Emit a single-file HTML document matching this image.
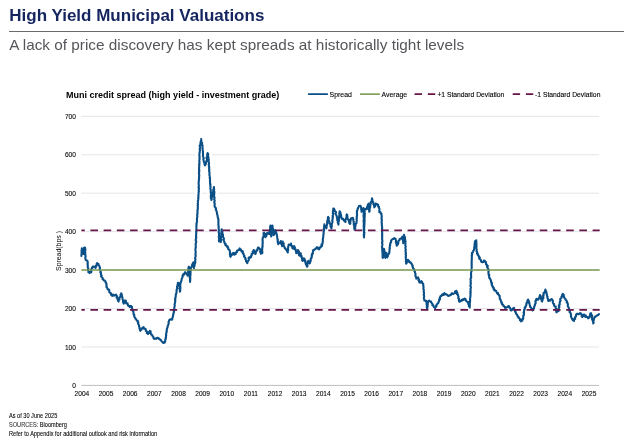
<!DOCTYPE html>
<html lang="en">
<head>
<meta charset="utf-8">
<title>High Yield Municipal Valuations</title>
<style>
html,body{margin:0;padding:0;background:#fff;}
body{width:624px;height:438px;position:relative;overflow:hidden;font-family:"Liberation Sans",Arial,Helvetica,sans-serif;color:#000;}
.abs{position:absolute;white-space:nowrap;line-height:1;}
h1{position:absolute;margin:0;left:9.3px;top:5.75px;font-size:17px;line-height:20px;font-weight:bold;color:#15255f;white-space:nowrap;}
.rule{position:absolute;left:9.2px;top:30.7px;width:615px;height:1.1px;background:#6b6b6b;}
h2{position:absolute;margin:0;left:9.15px;top:35.9px;font-size:15.34px;line-height:18px;font-weight:normal;color:#55565a;white-space:nowrap;transform:scaleY(1.012);transform-origin:0 78%;}
.ctitle{left:65.9px;top:90.1px;font-size:9.7px;font-weight:bold;color:#000;transform:scaleX(0.93);transform-origin:0 50%;}
.lg{font-size:6.9px;top:91.9px;color:#000;-webkit-text-stroke:0.1px #000;}
.yl{position:absolute;left:40px;width:35.9px;text-align:right;font-size:6.6px;line-height:9px;height:9px;color:#000;-webkit-text-stroke:0.08px #000;white-space:nowrap;}
.xl{position:absolute;top:389.2px;width:30px;text-align:center;font-size:6.6px;line-height:9px;height:9px;color:#000;-webkit-text-stroke:0.08px #000;white-space:nowrap;}
.ytitle{left:58.8px;top:251px;font-size:6.4px;color:#000;transform:translate(-50%,-50%) rotate(-90deg) scaleX(1.08);transform-origin:50% 50%;}
.foot{left:9.3px;font-size:6.3px;color:#000;-webkit-text-stroke:0.08px #000;transform:scaleX(0.889);transform-origin:0 50%;}
svg{position:absolute;left:0;top:0;}
</style>
</head>
<body>
<h1>High Yield Municipal Valuations</h1>
<div class="rule"></div>
<h2>A lack of price discovery has kept spreads at historically tight levels</h2>

<div class="abs ctitle">Muni credit spread (high yield - investment grade)</div>
<div class="abs lg" style="left:329.6px">Spread</div>
<div class="abs lg" style="left:381.6px">Average</div>
<div class="abs lg" style="left:437.4px;font-size:6.75px">+1 Standard Deviation</div>
<div class="abs lg" style="left:535.1px;font-size:6.75px">-1 Standard Deviation</div>

<div class="yl" style="top:381.05px">0</div><div class="yl" style="top:342.61px">100</div><div class="yl" style="top:304.16px">200</div><div class="yl" style="top:265.72px">300</div><div class="yl" style="top:227.28px">400</div><div class="yl" style="top:188.84px">500</div><div class="yl" style="top:150.39px">600</div><div class="yl" style="top:111.95px">700</div>
<div class="xl" style="left:66.90px">2004</div><div class="xl" style="left:91.05px">2005</div><div class="xl" style="left:115.19px">2006</div><div class="xl" style="left:139.34px">2007</div><div class="xl" style="left:163.48px">2008</div><div class="xl" style="left:187.63px">2009</div><div class="xl" style="left:211.78px">2010</div><div class="xl" style="left:235.92px">2011</div><div class="xl" style="left:260.07px">2012</div><div class="xl" style="left:284.21px">2013</div><div class="xl" style="left:308.36px">2014</div><div class="xl" style="left:332.51px">2015</div><div class="xl" style="left:356.65px">2016</div><div class="xl" style="left:380.80px">2017</div><div class="xl" style="left:404.94px">2018</div><div class="xl" style="left:429.09px">2019</div><div class="xl" style="left:453.24px">2020</div><div class="xl" style="left:477.38px">2021</div><div class="xl" style="left:501.53px">2022</div><div class="xl" style="left:525.67px">2023</div><div class="xl" style="left:549.82px">2024</div><div class="xl" style="left:573.97px">2025</div>
<div class="abs ytitle">Spread(bps )</div>

<svg width="624" height="438" viewBox="0 0 624 438" aria-label="Muni credit spread chart">
<g shape-rendering="auto">
<line x1="81.4" y1="346.96" x2="599.1" y2="346.96" stroke="#e5e4e8" stroke-width="1"/><line x1="81.4" y1="308.51" x2="599.1" y2="308.51" stroke="#e5e4e8" stroke-width="1"/><line x1="81.4" y1="270.07" x2="599.1" y2="270.07" stroke="#e5e4e8" stroke-width="1"/><line x1="81.4" y1="231.63" x2="599.1" y2="231.63" stroke="#e5e4e8" stroke-width="1"/><line x1="81.4" y1="193.19" x2="599.1" y2="193.19" stroke="#e5e4e8" stroke-width="1"/><line x1="81.4" y1="154.74" x2="599.1" y2="154.74" stroke="#e5e4e8" stroke-width="1"/><line x1="81.4" y1="116.30" x2="599.1" y2="116.30" stroke="#e5e4e8" stroke-width="1"/>
<line x1="81.4" y1="385.40" x2="599.1" y2="385.40" stroke="#bebec1" stroke-width="1"/>
</g>
<line x1="308.8" y1="94.15" x2="327.2" y2="94.15" stroke="#0b4f87" stroke-width="1.8" stroke-linecap="round"/>
<line x1="360" y1="94.15" x2="379.8" y2="94.15" stroke="#7b9950" stroke-width="1.6"/>
<line x1="414.6" y1="94.15" x2="435.2" y2="94.15" stroke="#66164a" stroke-width="1.7" stroke-dasharray="7.4 5.8"/>
<line x1="512.7" y1="94.15" x2="533.3" y2="94.15" stroke="#66164a" stroke-width="1.7" stroke-dasharray="7.4 5.8"/>
<path d="M81.4,255.9 L81.4,255.1 L81.5,254.4 L81.8,253.6 L81.5,252.8 L81.6,252.1 L81.7,251.3 L81.5,250.5 L81.7,249.7 L81.8,249.0 L81.8,248.2 L82.1,249.0 L83.0,249.0 L83.4,249.7 L83.3,250.4 L83.5,251.1 L83.1,251.9 L83.2,252.6 L83.8,253.3 L83.5,254.0 L83.9,253.3 L84.0,252.6 L83.8,251.8 L83.9,251.1 L83.6,250.4 L83.6,249.6 L84.1,248.9 L83.8,248.2 L84.2,247.5 L85.0,247.5 L85.2,248.3 L85.2,249.0 L85.4,249.8 L85.2,250.6 L85.2,251.3 L85.1,252.1 L85.3,252.9 L85.2,253.6 L85.4,254.4 L85.3,255.2 L85.5,255.9 L85.6,256.7 L85.3,257.5 L85.3,258.2 L85.6,259.0 L85.6,259.8 L86.1,260.2 L86.9,260.4 L87.4,260.9 L87.5,261.6 L87.7,262.3 L87.8,263.1 L87.5,263.9 L87.8,264.6 L87.6,265.4 L87.9,266.1 L87.7,266.9 L87.8,267.6 L88.3,268.3 L88.2,269.1 L87.9,269.9 L88.2,270.6 L88.6,271.2 L88.3,272.1 L89.3,272.3 L89.5,273.0 L90.0,272.0 L91.0,272.5 L91.3,271.8 L91.5,271.1 L91.2,270.3 L91.2,269.5 L91.6,268.8 L92.2,268.2 L92.0,267.4 L92.8,267.6 L93.1,266.4 L94.0,266.8 L94.7,266.9 L95.4,267.1 L95.5,268.0 L95.3,267.1 L96.3,266.7 L95.9,265.8 L96.5,265.2 L96.7,264.4 L96.7,263.6 L97.2,263.0 L97.4,263.8 L98.5,264.0 L98.4,265.0 L99.0,265.5 L99.5,266.1 L99.5,266.9 L99.9,267.6 L100.0,268.4 L99.6,269.3 L99.9,269.9 L100.4,270.6 L100.7,271.3 L100.3,272.1 L101.0,272.7 L101.0,273.4 L100.8,274.2 L101.1,274.9 L101.7,275.5 L101.1,276.4 L101.6,277.0 L102.3,277.5 L102.7,278.1 L102.5,279.1 L103.4,279.4 L103.6,280.2 L104.3,280.5 L105.0,280.8 L105.5,281.4 L105.5,282.4 L106.1,282.8 L106.4,283.5 L106.3,284.3 L106.6,285.0 L106.6,285.8 L106.3,286.6 L106.8,287.3 L107.2,287.9 L107.6,288.6 L107.7,289.4 L108.8,289.5 L109.3,290.1 L109.3,291.0 L109.2,291.9 L109.7,292.6 L110.7,293.0 L111.1,293.6 L110.9,294.6 L111.5,295.2 L112.4,295.9 L112.9,294.5 L113.9,295.7 L114.6,295.5 L115.3,294.9 L116.0,294.6 L116.3,295.3 L116.9,295.9 L117.2,296.5 L116.6,297.6 L117.6,298.0 L117.4,298.9 L118.1,299.4 L117.8,300.3 L118.2,300.9 L118.6,301.6 L118.6,300.8 L118.8,300.0 L119.5,299.4 L119.1,298.5 L119.5,297.7 L120.1,297.1 L120.6,296.4 L120.6,295.6 L120.5,294.7 L121.4,294.2 L121.2,293.3 L121.5,294.0 L121.8,294.7 L121.9,295.5 L121.9,296.2 L122.3,296.9 L122.4,297.7 L122.5,298.4 L122.6,299.2 L123.0,299.9 L123.1,300.6 L123.0,301.4 L123.1,302.2 L123.4,302.9 L123.7,303.6 L124.1,303.0 L124.3,302.4 L124.1,301.5 L124.3,300.9 L125.0,300.4 L125.9,300.7 L125.4,302.0 L126.1,302.4 L126.2,303.3 L127.6,303.2 L127.4,304.3 L128.0,304.8 L128.1,305.6 L128.8,306.1 L129.5,305.9 L129.9,307.2 L130.9,305.8 L131.3,306.7 L132.0,306.8 L132.0,307.5 L132.0,308.2 L132.3,308.9 L132.5,309.5 L132.6,310.2 L132.7,310.9 L133.2,311.5 L133.5,312.2 L133.5,313.0 L133.5,313.8 L133.7,314.5 L134.3,315.1 L134.2,315.9 L134.3,316.7 L134.8,317.3 L135.1,318.0 L135.4,318.7 L136.1,319.2 L136.4,319.9 L136.8,320.6 L137.8,320.8 L137.7,321.9 L138.3,322.4 L138.0,323.3 L138.3,324.0 L138.6,324.7 L139.1,325.4 L139.0,326.3 L139.3,327.0 L139.6,327.7 L139.5,328.6 L140.3,329.2 L139.9,330.1 L140.3,330.8 L140.3,329.8 L141.3,329.8 L141.7,329.2 L141.8,328.4 L142.8,328.3 L143.0,327.5 L143.5,327.0 L143.8,327.7 L143.9,328.6 L145.0,328.7 L145.7,329.2 L145.8,330.0 L145.8,330.9 L146.7,331.3 L147.1,331.9 L146.8,333.0 L147.4,333.5 L148.0,334.0 L148.3,333.3 L149.2,333.0 L149.0,332.0 L149.7,331.5 L149.9,330.8 L150.6,331.3 L150.7,332.2 L150.6,333.1 L150.9,333.8 L151.2,334.5 L152.1,334.9 L152.2,335.7 L152.9,336.3 L153.4,336.9 L153.4,337.8 L153.7,338.5 L154.5,338.9 L155.1,338.8 L155.8,338.4 L156.5,338.7 L157.0,337.8 L157.8,337.9 L158.5,338.1 L158.9,338.9 L159.7,339.0 L160.1,339.7 L160.9,340.0 L161.3,340.7 L161.6,341.5 L162.2,341.9 L163.0,342.3 L163.3,343.0 L164.1,342.8 L164.8,342.5 L164.8,341.5 L165.3,341.0 L165.2,340.2 L165.3,339.5 L165.8,338.8 L165.5,338.0 L166.0,337.3 L166.0,336.5 L166.0,335.7 L166.3,335.0 L166.0,334.2 L166.2,333.4 L166.5,332.7 L166.4,331.9 L166.9,331.2 L166.7,330.4 L166.8,329.7 L166.8,328.9 L167.2,328.2 L167.5,327.5 L167.5,326.6 L167.9,325.9 L168.1,325.2 L168.4,324.4 L168.7,323.7 L168.7,322.9 L168.5,322.0 L168.9,321.3 L169.1,320.5 L169.5,319.7 L170.1,319.2 L171.0,319.7 L171.8,319.8 L172.3,319.2 L172.3,318.4 L172.5,317.7 L172.7,317.0 L173.0,316.3 L173.0,315.5 L173.2,314.8 L173.5,314.1 L173.4,313.3 L173.8,312.6 L174.0,311.9 L173.7,311.0 L174.3,310.4 L174.2,309.6 L174.4,308.8 L174.1,308.0 L174.4,307.3 L174.6,306.5 L174.8,305.8 L174.6,305.0 L174.6,304.2 L174.8,303.5 L175.1,302.7 L175.1,302.0 L175.3,301.2 L175.1,300.4 L175.3,299.7 L175.0,298.9 L175.5,298.2 L175.4,297.4 L175.7,296.7 L175.7,295.9 L175.9,295.1 L175.8,294.3 L176.3,293.6 L176.4,292.8 L176.6,292.0 L176.5,291.2 L176.7,290.5 L176.6,289.6 L177.1,288.9 L177.2,288.1 L177.0,287.3 L177.0,286.5 L177.3,285.8 L177.5,285.0 L177.8,284.3 L177.8,283.5 L177.9,282.7 L178.8,283.0 L178.4,284.2 L179.2,284.6 L179.6,285.4 L179.1,286.2 L179.7,286.9 L179.6,287.7 L179.4,288.6 L179.9,289.3 L180.0,290.1 L179.8,290.9 L179.9,291.7 L180.1,290.9 L180.3,290.2 L180.2,289.4 L180.4,288.7 L180.2,287.9 L180.5,287.1 L180.0,286.3 L180.1,285.6 L180.4,284.8 L180.3,284.1 L180.5,283.3 L180.8,282.6 L181.0,281.8 L181.2,281.1 L181.5,280.4 L181.6,279.6 L181.7,278.8 L182.0,278.1 L182.4,277.4 L182.7,276.7 L182.5,275.8 L183.1,275.2 L183.1,274.4 L184.1,274.6 L184.1,273.6 L184.7,273.3 L184.8,272.4 L185.6,272.4 L186.0,273.1 L186.4,273.7 L186.7,274.4 L187.7,274.6 L187.6,275.6 L188.1,274.9 L187.8,274.1 L187.8,273.4 L188.2,272.7 L188.1,271.9 L188.2,271.1 L188.4,270.4 L188.1,269.6 L188.5,268.9 L188.5,268.2 L189.1,267.5 L188.8,266.7 L188.6,267.5 L189.1,268.2 L189.0,269.0 L189.3,269.7 L189.2,270.5 L189.0,271.3 L189.0,272.1 L189.3,272.8 L189.5,273.6 L189.6,274.3 L189.5,275.1 L189.4,275.9 L189.8,276.6 L189.6,277.4 L190.0,278.2 L190.0,278.9 L190.1,279.7 L189.9,280.5 L190.1,281.2 L190.1,282.0 L190.1,281.2 L190.2,280.4 L190.0,279.7 L190.4,278.9 L190.1,278.1 L190.3,277.3 L190.2,276.5 L190.2,275.8 L190.5,275.0 L190.5,274.2 L190.5,273.4 L190.5,272.7 L190.6,271.9 L190.5,271.1 L190.5,270.3 L190.8,269.6 L190.8,268.8 L190.8,268.0 L191.1,267.3 L191.8,266.7 L191.8,265.9 L192.4,265.3 L192.1,264.3 L192.9,263.8 L193.3,263.1 L193.3,262.2 L193.1,263.0 L193.6,263.6 L193.7,264.4 L193.3,265.1 L194.0,265.8 L193.4,266.6 L193.6,267.3 L194.0,268.0 L193.8,267.2 L194.1,266.5 L194.6,265.9 L194.4,265.1 L194.4,264.3 L195.1,263.7 L194.9,262.9 L195.4,262.3 L195.3,261.5 L195.1,260.7 L195.3,259.9 L195.5,259.2 L195.1,258.4 L195.3,257.6 L195.5,256.8 L195.7,256.0 L195.7,255.2 L195.3,254.4 L195.5,253.7 L195.7,252.9 L195.6,252.1 L195.7,251.3 L195.5,250.5 L195.4,249.8 L195.5,249.0 L195.5,248.2 L195.8,247.4 L195.8,246.6 L195.8,245.8 L195.6,245.1 L195.7,244.3 L195.7,243.5 L196.1,242.7 L196.2,241.9 L196.2,241.2 L195.7,240.4 L195.7,239.6 L196.0,238.8 L196.3,238.1 L196.0,237.3 L196.2,236.5 L196.0,235.8 L196.1,235.0 L196.2,234.3 L196.2,233.5 L196.3,232.8 L196.0,232.0 L196.4,231.3 L196.5,230.5 L196.2,229.8 L196.4,229.0 L196.5,228.3 L196.4,227.5 L196.3,226.7 L196.5,226.0 L196.4,225.2 L196.6,224.4 L196.4,223.6 L196.9,222.8 L196.9,222.0 L196.9,221.2 L197.0,220.5 L197.0,219.7 L196.9,218.9 L197.1,218.1 L197.1,217.3 L197.4,216.5 L197.3,215.7 L197.1,214.9 L197.5,214.1 L197.3,213.3 L197.5,212.5 L197.5,211.7 L197.6,210.9 L197.4,210.1 L197.8,209.4 L197.8,208.6 L197.8,207.8 L197.8,207.0 L197.9,206.2 L197.7,205.4 L198.0,204.6 L197.7,203.8 L197.9,203.0 L198.0,202.3 L197.8,201.5 L198.0,200.7 L198.2,199.9 L198.3,199.1 L198.1,198.3 L198.5,197.5 L198.4,196.7 L198.3,195.9 L198.5,195.2 L198.5,194.4 L198.6,193.6 L198.6,192.8 L198.6,192.0 L198.9,191.3 L198.7,190.5 L198.8,189.7 L198.8,188.9 L199.0,188.2 L198.5,187.4 L198.8,186.6 L198.9,185.8 L198.7,185.0 L198.7,184.3 L198.6,183.5 L198.7,182.7 L198.8,181.9 L198.7,181.2 L198.8,180.4 L199.1,179.6 L199.0,178.8 L198.9,178.1 L199.2,177.3 L199.0,176.5 L199.3,175.7 L199.1,175.0 L199.2,174.2 L198.8,173.4 L199.1,172.6 L199.2,171.9 L198.9,171.1 L199.4,170.3 L199.0,169.5 L199.1,168.8 L199.0,168.0 L199.2,167.2 L199.2,166.4 L199.3,165.6 L199.0,164.8 L199.5,164.1 L199.3,163.3 L199.4,162.5 L199.4,161.7 L199.3,160.9 L199.3,160.1 L199.6,159.3 L199.5,158.5 L199.4,157.7 L199.7,157.0 L199.5,156.2 L199.3,155.4 L199.5,154.6 L199.4,153.8 L199.5,153.0 L199.8,152.2 L199.7,151.4 L200.0,150.6 L199.9,149.9 L199.6,149.1 L200.1,148.3 L200.1,147.5 L199.9,146.7 L199.7,145.9 L200.5,145.2 L200.2,144.4 L200.4,143.6 L200.9,142.9 L200.5,142.0 L200.8,141.3 L201.3,140.6 L201.3,139.8 L201.2,139.0 L201.3,139.8 L201.1,140.6 L201.3,141.3 L201.6,142.1 L202.1,142.8 L201.8,143.6 L202.1,144.4 L202.4,145.1 L202.6,145.9 L202.4,146.7 L202.5,147.5 L202.7,148.2 L202.6,149.0 L202.6,149.8 L202.8,150.6 L203.0,151.4 L202.9,152.2 L203.0,153.0 L202.9,153.8 L203.1,154.5 L202.9,155.3 L203.0,156.1 L203.2,156.9 L203.6,157.7 L203.7,158.4 L203.3,159.3 L203.5,160.0 L203.7,160.8 L203.8,161.6 L204.3,162.3 L204.6,163.0 L204.4,163.8 L204.7,164.6 L205.0,165.3 L205.4,164.7 L205.7,164.0 L206.0,163.4 L205.7,162.5 L206.3,162.0 L206.2,161.2 L206.9,160.6 L207.0,159.8 L207.0,159.1 L206.5,158.2 L206.6,157.5 L206.9,156.8 L207.1,156.1 L207.4,155.3 L207.1,154.5 L207.5,153.8 L207.6,153.1 L208.1,153.8 L208.2,154.5 L207.8,155.3 L208.1,156.0 L208.1,156.8 L208.5,157.5 L208.5,158.2 L208.6,159.0 L208.8,159.7 L208.7,160.5 L208.6,161.3 L208.6,162.1 L209.0,162.8 L209.1,163.6 L208.7,164.4 L208.9,165.1 L208.9,165.9 L209.2,166.7 L209.1,167.4 L209.3,168.2 L209.0,169.0 L209.3,169.7 L209.2,170.5 L209.1,171.3 L209.5,172.1 L209.4,172.8 L209.5,173.6 L209.4,174.4 L209.4,175.2 L209.7,175.9 L209.8,176.7 L210.0,177.4 L209.6,178.2 L210.1,179.0 L210.1,179.7 L209.9,180.5 L210.0,181.3 L210.0,182.1 L210.2,182.8 L210.0,183.6 L210.5,184.3 L210.4,185.1 L210.2,185.9 L210.6,186.6 L210.5,187.4 L210.4,188.2 L210.4,189.0 L210.7,189.7 L210.8,190.5 L210.8,191.3 L210.6,192.0 L210.8,192.8 L211.0,193.6 L211.2,194.4 L210.8,195.2 L211.0,196.0 L210.8,196.8 L210.9,197.6 L211.0,198.3 L211.4,199.1 L211.4,199.9 L211.8,199.2 L211.6,198.4 L211.7,197.7 L212.0,197.0 L212.6,196.4 L212.7,195.6 L212.3,194.8 L212.7,194.1 L212.7,193.4 L212.8,192.7 L213.0,191.9 L213.1,191.2 L213.3,190.5 L213.2,189.8 L213.7,189.1 L214.0,188.5 L213.9,187.7 L214.0,187.0 L213.8,187.8 L214.0,188.6 L214.2,189.3 L214.0,190.1 L213.9,190.9 L214.3,191.6 L214.4,192.4 L214.2,193.2 L214.2,194.0 L214.2,194.8 L214.0,195.5 L214.2,196.3 L214.2,197.1 L214.6,197.8 L214.3,198.6 L214.2,199.4 L214.6,200.2 L214.7,200.9 L214.3,201.7 L214.3,202.5 L214.7,203.3 L214.5,204.1 L214.8,204.8 L214.6,205.6 L214.6,206.4 L215.0,207.1 L215.7,207.7 L216.0,208.5 L215.7,209.4 L216.2,210.1 L216.5,210.8 L216.5,211.6 L216.9,212.3 L217.1,213.0 L216.9,213.8 L217.2,214.5 L217.5,215.2 L217.6,216.0 L217.7,216.8 L217.9,217.5 L217.9,218.3 L218.4,218.9 L218.5,219.7 L218.3,220.5 L218.5,221.3 L218.4,222.0 L218.4,222.8 L218.4,223.6 L218.4,224.4 L218.4,225.1 L218.6,225.9 L218.7,226.7 L218.6,227.5 L218.6,228.2 L218.8,229.0 L218.8,229.8 L219.0,230.5 L218.7,231.3 L218.6,232.1 L218.9,232.9 L219.1,233.6 L219.1,234.4 L219.0,235.2 L219.1,236.0 L218.7,236.8 L219.2,237.5 L219.1,238.3 L219.2,239.1 L219.0,239.9 L218.9,240.6 L219.1,241.4 L219.9,241.1 L220.5,241.1 L220.8,242.0 L220.8,241.2 L221.0,240.5 L221.2,239.8 L220.8,239.0 L220.9,238.2 L220.9,237.5 L221.0,236.7 L221.1,236.0 L221.4,235.2 L221.4,234.5 L221.2,233.7 L221.3,233.0 L221.4,232.2 L221.4,231.4 L221.7,230.7 L221.5,229.9 L221.7,229.2 L221.8,229.9 L221.7,230.7 L222.2,231.4 L222.5,232.1 L222.1,232.9 L222.2,233.6 L222.9,234.2 L222.9,235.0 L223.0,235.8 L222.8,236.6 L223.3,237.3 L223.7,238.1 L224.0,238.8 L223.4,239.7 L223.7,240.5 L224.2,241.2 L224.2,242.0 L224.5,242.7 L224.9,243.3 L225.6,243.8 L225.2,244.9 L225.9,245.3 L226.7,245.7 L226.8,246.5 L227.8,246.6 L227.7,247.5 L228.2,248.0 L228.2,248.9 L228.7,249.4 L229.4,249.7 L229.4,250.4 L229.9,251.1 L230.0,251.8 L230.0,252.5 L230.2,253.2 L229.8,254.0 L230.2,254.7 L230.2,255.4 L230.1,256.2 L230.6,256.8 L230.8,256.0 L231.4,255.5 L231.4,254.6 L232.5,254.4 L232.6,253.6 L233.4,252.9 L233.7,254.5 L234.3,254.6 L235.1,254.2 L235.8,253.9 L235.4,252.8 L236.0,252.5 L236.9,252.3 L237.0,251.6 L237.0,250.7 L237.8,250.5 L238.3,250.0 L239.2,249.9 L239.3,249.0 L239.6,248.4 L239.7,249.3 L240.7,249.3 L240.7,250.3 L241.5,250.6 L241.4,251.5 L242.8,251.4 L242.8,252.3 L242.7,253.1 L243.6,253.6 L243.5,254.4 L243.8,255.1 L244.4,255.7 L244.0,256.6 L244.8,257.1 L245.1,257.8 L245.6,258.4 L245.4,259.3 L245.9,259.9 L246.1,260.6 L246.1,261.4 L246.8,261.8 L246.8,262.6 L247.3,263.2 L247.2,262.4 L247.7,261.7 L248.0,261.0 L248.7,260.4 L248.8,259.7 L248.9,258.9 L248.5,258.0 L249.2,257.4 L249.9,257.3 L250.6,257.7 L251.1,257.1 L250.9,256.2 L251.5,255.6 L251.7,254.9 L251.6,254.0 L252.8,253.7 L252.9,252.9 L252.6,252.0 L253.3,251.4 L253.3,250.6 L253.8,250.0 L254.2,250.6 L254.3,251.3 L254.7,251.9 L255.0,252.6 L255.2,253.3 L255.3,254.0 L255.8,253.3 L255.7,252.5 L255.9,251.7 L256.7,251.2 L256.6,250.3 L257.5,249.9 L257.5,249.0 L257.9,248.3 L258.0,247.5 L258.6,247.6 L258.7,248.6 L259.5,248.4 L260.1,249.1 L260.2,249.9 L260.5,250.6 L260.1,251.5 L260.3,252.3 L261.0,253.0 L260.9,253.8 L261.5,253.3 L262.2,253.2 L262.4,252.4 L262.3,251.7 L262.1,250.9 L262.2,250.1 L262.2,249.3 L262.2,248.6 L262.4,247.8 L262.2,247.0 L262.7,246.3 L262.5,245.5 L262.5,244.7 L262.6,244.0 L262.7,243.2 L262.8,242.4 L262.6,241.6 L262.6,240.9 L262.7,240.1 L262.5,239.3 L262.7,238.6 L262.8,237.8 L263.2,237.1 L263.6,236.5 L263.6,235.7 L263.7,234.9 L263.8,234.2 L263.5,233.3 L264.1,232.7 L264.5,233.4 L264.7,234.2 L264.6,235.0 L265.3,235.6 L265.3,236.4 L265.4,237.2 L265.7,236.6 L266.2,236.0 L266.5,235.4 L266.6,234.7 L266.4,233.8 L267.3,233.5 L267.3,232.7 L267.6,233.7 L268.5,233.6 L269.2,234.0 L269.2,233.2 L269.4,232.5 L269.3,231.7 L269.8,231.0 L270.2,230.2 L269.9,229.4 L270.2,228.7 L270.4,227.9 L270.0,227.1 L270.7,226.4 L270.5,225.6 L270.5,226.4 L270.8,227.1 L270.9,227.9 L270.8,228.7 L270.7,229.5 L270.7,230.3 L270.9,231.0 L270.7,231.8 L271.0,232.6 L271.0,233.4 L271.3,234.2 L270.8,235.0 L271.3,235.7 L271.2,236.5 L271.5,235.7 L271.4,234.9 L271.5,234.2 L271.6,233.4 L271.5,232.6 L271.9,231.9 L272.1,231.1 L272.1,230.3 L272.0,229.5 L271.9,228.7 L272.3,228.0 L272.1,227.1 L272.5,226.4 L272.4,225.6 L272.6,226.3 L272.6,227.1 L272.5,227.8 L273.0,228.5 L272.9,229.3 L273.2,230.0 L273.4,230.7 L273.4,231.5 L273.0,232.3 L273.2,233.0 L273.4,233.7 L273.7,234.4 L273.7,235.2 L274.0,234.5 L274.3,233.8 L274.2,233.0 L274.5,232.3 L274.9,231.6 L274.4,230.7 L275.0,230.1 L275.6,230.7 L275.6,231.5 L276.2,232.2 L276.2,233.0 L276.3,233.8 L276.9,234.4 L276.9,235.2 L277.0,236.0 L277.2,236.7 L277.2,237.5 L277.4,238.2 L277.4,239.0 L277.8,239.7 L277.6,240.5 L278.0,241.2 L277.6,242.0 L277.9,242.7 L278.1,243.4 L278.2,244.2 L278.5,243.6 L279.2,243.2 L279.7,242.8 L280.2,242.3 L280.6,241.8 L280.8,241.0 L281.0,241.7 L280.7,242.6 L281.1,243.3 L281.2,244.0 L281.8,244.6 L282.0,245.4 L282.1,246.1 L282.3,245.4 L282.6,244.6 L282.4,243.9 L282.5,243.1 L282.5,242.3 L282.7,241.6 L282.6,242.5 L283.3,243.0 L283.8,243.6 L283.4,244.6 L283.5,245.3 L283.9,246.0 L284.3,246.7 L284.6,247.4 L284.7,248.2 L285.6,248.5 L285.7,249.4 L286.7,249.7 L287.0,250.3 L287.1,251.2 L287.4,251.9 L287.8,252.5 L287.8,251.7 L287.6,250.9 L288.2,250.2 L288.1,249.4 L288.0,248.6 L288.1,247.8 L288.3,247.0 L288.2,246.3 L288.5,245.5 L288.7,244.5 L290.1,245.1 L290.8,244.7 L291.0,243.6 L291.1,244.4 L291.2,245.2 L291.9,245.8 L291.8,246.6 L292.6,247.1 L292.4,248.1 L292.9,248.7 L293.3,248.1 L294.0,247.6 L293.5,246.5 L294.2,246.1 L294.1,246.9 L294.9,247.4 L294.8,248.2 L294.6,249.1 L295.7,249.5 L295.6,250.3 L295.8,251.0 L296.0,251.7 L296.4,252.4 L296.2,253.2 L297.0,252.8 L297.3,252.1 L297.2,251.2 L297.6,250.6 L298.1,250.0 L298.2,250.7 L298.8,251.3 L299.0,252.0 L298.4,252.9 L299.1,253.5 L299.1,254.3 L298.9,255.1 L299.4,255.7 L300.2,255.3 L300.0,254.4 L300.0,253.7 L300.6,253.2 L301.0,253.9 L300.6,254.8 L300.8,255.6 L301.7,256.2 L301.3,257.1 L301.9,257.8 L302.0,258.6 L302.5,259.3 L302.1,260.2 L302.6,260.9 L303.4,260.5 L302.9,259.5 L303.6,259.0 L303.8,258.3 L304.4,258.8 L304.0,259.8 L305.1,260.0 L305.3,260.7 L305.0,261.6 L305.7,262.1 L305.8,262.8 L305.6,263.6 L305.9,264.2 L306.2,264.8 L307.0,265.2 L306.7,266.0 L307.1,266.6 L307.6,266.0 L307.4,265.2 L307.2,264.4 L307.5,263.7 L307.7,263.0 L308.2,262.4 L307.9,261.6 L308.3,260.9 L309.0,261.4 L309.2,262.0 L309.1,262.9 L309.6,263.4 L310.1,262.8 L309.9,261.9 L310.4,261.3 L310.8,260.7 L310.7,259.9 L310.6,259.1 L310.9,258.4 L311.7,257.8 L311.5,257.0 L311.9,256.3 L311.7,255.5 L312.2,254.9 L311.9,254.1 L312.9,253.6 L312.6,252.8 L312.9,252.1 L313.1,251.4 L312.9,250.6 L313.5,250.0 L314.2,249.9 L314.6,249.2 L315.4,249.3 L315.6,248.5 L316.6,248.3 L316.7,247.4 L317.7,247.4 L318.2,248.1 L318.3,249.1 L319.2,249.3 L319.3,248.5 L319.8,247.9 L320.5,247.4 L320.5,246.5 L321.6,246.4 L322.1,245.8 L321.5,244.5 L322.4,244.2 L322.5,243.4 L322.7,242.7 L322.6,241.9 L322.9,241.2 L322.8,240.4 L322.7,239.7 L323.0,238.9 L323.1,238.2 L323.0,237.4 L323.2,236.7 L323.4,235.9 L323.3,235.2 L323.4,234.4 L323.7,233.7 L323.6,232.9 L323.6,232.2 L323.7,231.4 L324.1,230.6 L323.6,229.8 L324.1,229.1 L323.8,228.2 L324.2,227.5 L324.0,226.6 L324.2,225.9 L324.5,225.1 L324.4,224.3 L324.4,225.1 L324.7,225.8 L325.6,226.3 L325.7,227.1 L326.3,227.7 L326.3,228.5 L326.5,227.7 L326.6,227.0 L326.4,226.1 L326.9,225.4 L327.0,224.7 L327.1,223.9 L327.4,223.1 L327.1,222.3 L327.3,221.5 L327.3,220.7 L327.7,220.0 L327.8,219.2 L327.9,218.4 L327.9,217.7 L328.2,216.9 L328.1,217.7 L328.9,218.2 L328.3,219.1 L328.7,219.8 L328.9,220.5 L328.8,221.2 L329.4,221.8 L329.7,222.5 L329.5,223.3 L330.0,224.0 L330.5,224.6 L330.5,225.5 L330.5,226.3 L330.8,227.0 L331.4,227.7 L331.4,228.5 L331.5,227.7 L331.4,226.9 L331.9,226.1 L331.6,225.3 L331.8,224.5 L331.8,223.7 L332.2,223.0 L332.4,222.2 L332.5,221.4 L332.2,220.5 L332.5,219.8 L332.5,219.0 L332.7,218.2 L332.6,217.5 L333.0,216.7 L332.6,216.0 L332.9,215.2 L333.1,214.5 L333.2,213.8 L332.8,213.0 L333.0,212.3 L333.2,211.6 L332.9,210.8 L333.1,210.1 L333.5,209.4 L333.3,208.6 L334.1,208.8 L334.2,209.6 L334.7,210.0 L334.9,210.6 L335.2,211.2 L335.8,211.8 L336.1,212.5 L335.4,213.5 L335.8,214.2 L336.1,214.9 L336.5,215.6 L336.8,216.3 L336.9,217.1 L336.9,217.9 L337.3,218.6 L337.3,219.3 L337.2,220.1 L337.7,220.8 L337.9,221.6 L337.7,222.4 L338.0,223.1 L338.5,223.8 L338.4,224.6 L338.4,223.8 L338.6,223.0 L338.4,222.2 L338.6,221.4 L338.9,220.7 L339.1,219.9 L339.0,219.1 L339.2,218.3 L339.1,217.5 L339.1,216.7 L339.4,215.9 L339.3,215.1 L339.5,214.4 L339.3,213.5 L339.5,212.8 L339.5,212.0 L339.7,211.2 L339.9,211.9 L340.4,212.5 L340.6,213.3 L340.8,214.0 L340.8,214.7 L341.1,215.4 L341.2,216.2 L340.9,217.0 L341.6,217.6 L341.8,218.3 L342.0,218.9 L343.1,218.8 L343.3,219.5 L343.6,220.1 L344.5,220.1 L344.4,221.2 L345.2,221.4 L345.5,222.0 L345.4,221.2 L345.4,220.4 L345.6,219.7 L345.8,218.9 L346.1,218.2 L346.6,217.5 L346.6,216.7 L346.4,215.9 L346.6,215.1 L346.8,214.4 L347.3,215.0 L346.8,216.0 L347.5,216.6 L347.3,217.4 L347.5,218.1 L347.6,218.9 L348.1,219.5 L348.9,219.9 L348.8,220.7 L349.0,221.4 L349.6,221.9 L349.1,222.9 L349.9,223.3 L350.0,224.0 L350.4,223.3 L350.3,222.6 L350.1,221.7 L350.6,221.1 L350.6,220.3 L350.6,219.6 L350.8,218.9 L351.3,218.2 L351.9,218.6 L352.8,217.8 L353.2,218.8 L353.4,219.6 L353.4,220.4 L353.5,221.1 L353.8,221.9 L353.6,222.7 L353.9,223.5 L353.7,224.3 L353.9,225.0 L354.2,225.8 L354.3,226.6 L354.3,227.4 L354.2,228.2 L354.5,228.9 L354.5,229.7 L354.6,229.0 L355.3,228.4 L354.9,227.5 L355.2,226.8 L355.4,226.1 L355.5,225.4 L355.6,224.6 L355.7,223.9 L356.4,223.3 L356.5,222.5 L356.5,221.8 L356.7,221.0 L356.8,220.2 L356.5,219.5 L356.7,218.7 L356.9,217.9 L356.6,217.2 L356.9,216.4 L356.9,215.6 L357.1,214.9 L357.1,214.1 L356.8,213.3 L357.0,212.6 L357.0,211.8 L356.9,210.9 L357.4,210.3 L357.6,209.6 L357.6,208.8 L358.1,208.1 L358.3,207.4 L358.7,206.7 L359.0,206.0 L359.8,205.9 L360.5,205.9 L360.9,206.7 L361.1,207.4 L361.1,208.2 L361.4,208.9 L361.1,209.6 L361.5,210.3 L361.7,211.0 L361.5,211.8 L361.7,211.1 L362.1,210.5 L362.1,209.7 L362.9,209.3 L363.3,208.7 L363.4,208.0 L363.4,208.8 L363.3,209.6 L363.7,210.4 L363.5,211.2 L363.6,212.0 L363.7,212.8 L363.6,213.6 L363.8,214.4 L363.6,215.2 L363.5,215.9 L363.6,216.7 L363.7,217.5 L363.8,218.3 L363.9,219.1 L363.8,219.9 L363.5,220.7 L363.7,221.5 L363.9,222.3 L363.7,223.1 L363.9,223.9 L363.8,224.7 L363.8,225.5 L363.6,226.3 L363.9,227.1 L363.8,227.9 L363.7,228.7 L363.8,229.5 L363.9,230.3 L363.9,231.0 L364.0,231.8 L364.0,232.6 L364.1,233.4 L363.8,234.2 L363.8,235.0 L364.1,235.8 L363.9,236.6 L364.1,237.4 L363.9,236.6 L363.9,235.8 L364.2,235.1 L364.1,234.3 L364.1,233.5 L364.5,232.7 L364.0,231.9 L364.1,231.1 L364.1,230.3 L364.4,229.6 L364.1,228.8 L364.0,228.0 L364.3,227.2 L364.3,226.4 L364.2,225.6 L364.4,224.9 L364.5,224.1 L364.4,223.3 L364.5,222.5 L364.5,221.7 L364.6,221.0 L364.7,220.2 L364.4,219.4 L364.4,218.6 L364.7,217.8 L364.4,217.0 L364.7,216.3 L364.7,215.5 L364.7,214.7 L364.9,213.9 L364.8,213.1 L364.4,212.3 L364.7,211.6 L364.7,210.8 L364.7,210.0 L364.7,209.2 L365.3,209.0 L366.0,208.8 L366.6,209.2 L367.1,208.6 L367.1,207.8 L367.1,207.0 L367.4,206.3 L367.7,205.6 L367.8,204.8 L368.4,204.2 L368.6,203.5 L368.9,204.2 L369.0,205.0 L369.1,205.7 L369.1,206.5 L368.7,207.3 L369.2,208.0 L369.0,208.8 L368.8,209.6 L369.1,210.3 L369.4,211.0 L369.2,211.8 L369.6,211.1 L369.8,210.3 L369.2,209.4 L369.5,208.7 L369.9,208.0 L370.2,207.2 L370.0,206.4 L370.4,205.7 L370.2,204.8 L370.5,204.1 L370.9,203.4 L370.7,202.6 L370.9,201.9 L371.5,201.3 L371.7,200.6 L371.9,199.8 L371.9,199.0 L372.0,198.3 L372.2,199.0 L372.3,199.8 L372.5,200.6 L372.6,201.3 L372.8,202.1 L373.3,202.7 L373.4,203.5 L373.4,204.3 L373.9,205.0 L374.1,205.8 L374.4,206.5 L374.3,207.3 L374.6,206.7 L375.2,206.2 L375.4,205.6 L374.8,204.6 L375.6,204.2 L375.6,203.5 L376.3,203.7 L376.8,204.3 L377.6,204.2 L378.2,204.7 L378.0,205.5 L378.1,206.2 L379.0,206.8 L378.6,207.6 L379.2,208.2 L379.5,209.0 L379.4,209.7 L379.2,210.5 L379.5,211.2 L379.3,212.1 L380.6,212.2 L380.7,213.0 L381.4,213.5 L381.2,214.4 L381.6,215.0 L381.6,215.8 L381.7,216.6 L381.8,217.4 L381.5,218.2 L381.5,219.0 L381.9,219.8 L381.8,220.6 L381.7,221.4 L381.7,222.2 L381.6,222.9 L381.9,223.7 L381.8,224.5 L381.9,225.3 L381.8,226.1 L382.1,226.9 L382.2,227.7 L382.0,228.5 L382.2,229.3 L381.8,230.1 L382.2,230.9 L382.0,231.7 L382.2,232.5 L382.1,233.3 L382.3,234.1 L382.0,234.9 L382.3,235.7 L382.0,236.5 L382.2,237.3 L382.2,238.0 L382.1,238.8 L382.2,239.6 L382.3,240.4 L382.4,241.2 L382.4,242.0 L381.9,242.8 L382.3,243.6 L382.4,244.4 L382.3,245.2 L382.2,246.0 L381.9,246.8 L382.2,247.6 L382.4,248.4 L382.1,249.2 L382.3,250.0 L382.4,250.8 L382.3,251.6 L382.5,252.4 L382.8,253.1 L382.5,253.9 L382.5,254.7 L382.6,255.5 L382.8,256.3 L382.5,257.1 L382.8,257.9 L383.1,257.2 L383.3,256.4 L383.1,255.6 L383.4,254.9 L383.5,254.2 L383.3,253.4 L383.3,252.6 L383.5,251.9 L383.6,251.1 L383.7,250.4 L383.9,249.6 L384.1,248.9 L384.1,249.7 L384.4,250.4 L384.4,251.2 L384.8,251.9 L384.8,252.6 L384.5,253.4 L385.1,254.1 L385.0,254.9 L384.9,255.7 L385.0,256.4 L385.2,257.2 L385.4,257.9 L385.5,257.2 L385.9,256.5 L386.1,255.8 L386.2,255.0 L386.5,254.3 L385.9,253.5 L386.4,252.8 L386.2,253.6 L386.8,254.3 L386.7,255.1 L387.2,255.8 L386.8,256.6 L387.3,257.3 L387.1,256.5 L387.9,256.0 L387.8,255.3 L388.3,254.7 L388.5,254.0 L389.1,253.5 L389.2,252.8 L389.5,252.1 L389.3,251.3 L389.5,250.6 L389.5,249.8 L389.5,249.1 L389.9,248.4 L389.7,247.6 L389.7,246.9 L389.9,246.1 L390.2,245.4 L390.0,244.7 L390.3,244.0 L390.3,243.2 L390.7,242.6 L391.2,242.0 L391.0,241.1 L391.3,240.4 L391.7,239.7 L392.4,239.3 L393.0,238.9 L393.7,238.9 L394.2,238.1 L395.0,238.8 L395.6,238.7 L395.8,239.5 L396.0,240.2 L396.0,241.0 L395.8,241.9 L396.6,242.5 L396.2,243.4 L396.8,244.1 L396.5,245.0 L396.9,245.7 L396.8,244.8 L397.9,244.4 L397.6,243.5 L398.4,243.0 L398.0,242.0 L398.4,241.3 L398.8,240.6 L399.5,240.3 L399.5,239.2 L400.1,238.8 L401.1,238.7 L401.4,238.0 L402.3,238.0 L402.1,237.0 L402.7,236.7 L403.0,237.4 L402.9,238.1 L402.5,238.9 L403.2,239.6 L402.9,240.3 L403.2,241.0 L403.1,241.8 L403.4,242.5 L403.3,243.2 L403.4,242.4 L403.7,241.7 L403.7,240.9 L403.6,240.2 L403.6,239.4 L403.7,238.6 L403.5,237.8 L404.1,237.1 L404.0,236.3 L403.9,235.6 L404.0,234.8 L404.0,235.6 L404.4,236.2 L404.7,237.0 L405.0,237.7 L404.8,238.5 L405.0,239.2 L405.3,239.9 L405.3,240.7 L405.6,241.5 L405.3,242.3 L405.4,243.1 L405.4,243.9 L405.4,244.7 L405.3,245.5 L405.7,246.2 L405.6,247.0 L405.3,247.8 L405.5,248.6 L405.8,249.4 L405.6,250.2 L405.5,251.0 L405.8,251.8 L405.6,252.6 L406.0,253.4 L405.6,254.2 L405.9,255.0 L406.0,255.8 L405.7,256.6 L405.9,257.4 L405.8,258.2 L405.8,258.9 L405.9,259.7 L406.1,260.5 L405.8,261.3 L406.4,262.1 L406.0,262.9 L406.2,263.7 L406.7,263.1 L406.5,262.3 L407.3,261.9 L407.2,261.1 L407.6,260.5 L407.8,259.8 L407.8,260.6 L408.9,260.6 L409.2,261.2 L409.2,262.0 L409.7,262.4 L410.7,262.3 L411.0,263.3 L411.7,263.7 L411.7,264.4 L412.2,265.0 L412.7,265.5 L412.4,266.4 L412.9,266.9 L412.9,267.8 L413.3,268.4 L413.9,269.0 L414.3,269.7 L414.3,270.5 L414.5,271.2 L415.0,271.9 L415.0,272.7 L415.3,273.4 L415.5,274.1 L415.5,274.9 L415.4,275.7 L415.6,276.5 L416.2,277.2 L416.3,277.9 L416.3,278.7 L416.8,278.1 L417.9,278.3 L418.2,277.4 L418.3,278.2 L418.2,278.9 L419.1,279.5 L418.5,280.4 L419.4,281.0 L419.2,281.8 L419.5,282.5 L420.5,282.6 L421.0,281.9 L421.4,281.2 L422.0,281.7 L421.9,282.6 L422.4,283.1 L423.2,283.6 L423.1,284.4 L423.3,285.1 L423.4,285.9 L423.3,286.6 L423.6,287.4 L423.4,288.2 L423.4,289.0 L423.8,289.7 L423.9,290.5 L423.6,291.3 L423.8,292.0 L424.0,292.8 L424.1,293.6 L423.7,294.4 L423.9,295.1 L424.1,295.9 L424.2,296.6 L423.8,297.4 L424.0,298.2 L424.1,299.0 L424.3,299.7 L424.3,300.5 L425.0,300.5 L425.5,301.0 L426.2,300.9 L426.5,301.7 L426.5,302.5 L426.7,303.2 L426.5,304.0 L426.8,304.8 L426.9,305.5 L426.9,306.3 L426.7,307.1 L427.2,307.8 L427.0,308.6 L427.2,309.4 L427.1,308.6 L427.4,307.9 L427.2,307.1 L427.7,306.3 L427.3,305.5 L427.8,304.8 L427.7,304.0 L427.6,303.2 L428.1,302.5 L427.8,301.7 L428.1,301.2 L428.9,301.2 L429.1,300.5 L429.5,301.1 L430.2,301.4 L431.0,301.6 L431.2,302.4 L431.6,303.0 L432.2,303.5 L432.5,304.2 L432.3,305.2 L433.4,305.4 L433.6,306.2 L433.8,306.9 L434.2,307.3 L435.1,307.5 L435.2,308.2 L435.4,307.5 L435.5,306.7 L436.5,306.5 L436.2,305.5 L436.7,304.9 L436.9,304.3 L437.4,303.7 L438.1,303.3 L438.5,302.6 L438.6,301.8 L439.0,301.2 L439.3,300.5 L439.1,299.6 L440.1,299.1 L439.6,298.1 L440.0,297.5 L440.3,296.7 L440.6,296.0 L441.3,295.9 L441.8,295.4 L442.0,294.6 L443.1,294.9 L443.2,294.0 L443.8,294.8 L444.4,293.1 L445.1,294.2 L445.7,294.0 L446.2,294.4 L446.9,294.6 L447.3,295.2 L448.0,295.4 L448.3,296.0 L449.0,295.8 L449.5,295.3 L450.4,295.3 L450.9,294.8 L451.4,294.4 L451.5,293.4 L452.1,293.2 L452.8,294.0 L453.5,293.7 L454.1,293.4 L454.8,293.1 L455.5,292.8 L455.0,291.4 L455.9,291.3 L456.4,290.8 L456.7,291.5 L456.8,292.3 L457.4,293.0 L456.9,294.0 L457.9,294.5 L457.9,295.3 L458.2,296.0 L458.5,296.7 L458.4,297.4 L458.3,298.2 L459.0,298.8 L459.0,299.5 L458.8,300.3 L459.0,301.0 L459.2,301.7 L459.9,301.6 L460.0,300.6 L461.0,301.0 L461.5,300.5 L461.8,299.8 L462.4,300.3 L463.1,299.1 L463.7,299.8 L464.3,299.5 L464.7,298.6 L465.6,299.2 L465.7,300.1 L466.1,300.8 L466.6,301.4 L467.5,301.7 L468.2,302.2 L468.2,303.1 L468.3,303.9 L468.6,304.6 L469.3,305.2 L468.9,306.2 L469.6,306.7 L469.7,307.5 L469.8,306.7 L469.6,305.9 L469.9,305.1 L469.7,304.3 L469.7,303.5 L470.0,302.7 L469.9,301.9 L470.2,301.2 L470.0,300.3 L470.1,299.6 L470.0,298.8 L470.1,298.0 L470.3,297.2 L470.4,296.4 L470.4,295.6 L470.6,294.8 L470.5,294.0 L470.3,293.2 L470.7,292.5 L470.3,291.7 L470.8,291.0 L470.6,290.2 L470.5,289.5 L470.6,288.7 L470.8,288.0 L470.9,287.2 L470.6,286.5 L470.4,285.7 L470.5,285.0 L470.8,284.2 L470.8,283.5 L470.8,282.7 L470.5,282.0 L470.7,281.2 L470.8,280.4 L470.5,279.7 L470.6,278.9 L470.8,278.1 L471.2,277.4 L471.1,276.6 L471.2,275.9 L470.9,275.1 L471.1,274.3 L471.0,273.5 L471.1,272.8 L471.1,272.0 L471.6,271.3 L471.4,270.5 L471.3,269.7 L471.5,268.9 L471.6,268.1 L471.7,267.3 L471.8,266.5 L471.6,265.7 L471.6,264.9 L471.8,264.1 L471.6,263.3 L471.6,262.5 L471.8,261.8 L471.6,261.0 L471.7,260.2 L471.8,259.4 L471.8,258.6 L471.8,257.8 L471.8,257.0 L471.9,256.2 L471.7,255.4 L472.2,254.6 L472.0,253.8 L471.9,252.9 L472.7,252.5 L473.0,251.9 L473.2,251.2 L473.4,250.5 L474.0,250.0 L473.9,249.2 L474.1,248.5 L474.2,247.7 L474.4,247.0 L474.4,246.2 L474.7,245.5 L474.7,244.7 L474.5,244.0 L474.9,243.2 L475.2,242.5 L474.8,241.7 L475.2,241.0 L475.8,240.8 L476.3,240.3 L476.1,241.1 L476.4,241.9 L476.3,242.6 L476.4,243.4 L476.5,244.2 L476.3,245.0 L476.4,245.8 L476.5,246.5 L476.4,247.3 L476.4,248.1 L476.3,248.9 L476.7,249.6 L476.7,250.4 L476.5,251.2 L477.0,251.7 L477.3,252.4 L477.0,253.3 L477.7,253.7 L477.5,254.6 L478.2,255.0 L478.4,255.7 L478.9,256.2 L478.9,257.1 L479.8,257.4 L479.2,258.5 L479.7,259.1 L480.5,259.4 L480.9,260.1 L481.0,260.8 L481.3,261.7 L482.0,262.0 L482.9,262.1 L483.7,261.9 L483.8,260.6 L484.8,260.8 L484.9,261.6 L485.9,261.9 L485.7,262.8 L486.1,263.4 L486.0,264.3 L486.8,264.7 L486.9,265.5 L487.8,266.0 L487.1,267.1 L487.6,267.8 L488.0,268.5 L488.3,269.2 L488.8,269.9 L488.3,270.8 L488.6,271.6 L488.5,272.4 L488.4,273.2 L488.5,274.0 L489.3,274.7 L488.8,275.5 L489.2,276.3 L489.2,277.1 L489.2,277.9 L489.9,278.3 L490.1,279.0 L490.4,279.7 L491.0,280.2 L490.9,281.0 L491.3,281.7 L491.1,282.5 L491.9,283.0 L492.1,283.7 L491.6,284.6 L492.0,285.3 L492.3,286.0 L492.9,286.6 L492.8,287.4 L493.6,287.6 L493.9,288.3 L493.6,289.4 L494.5,289.6 L494.5,290.4 L495.4,290.6 L496.2,290.9 L496.4,291.6 L496.7,292.3 L496.9,293.1 L498.1,293.0 L497.7,294.2 L498.6,294.4 L498.9,295.1 L499.6,295.7 L499.5,296.6 L499.8,297.3 L499.8,298.2 L499.8,299.0 L500.5,299.6 L500.8,300.3 L500.9,301.1 L501.4,301.7 L501.3,302.6 L502.2,303.1 L501.9,304.1 L502.4,304.7 L503.2,304.9 L503.2,305.8 L504.0,306.0 L504.3,306.7 L504.9,307.1 L505.0,307.9 L505.6,307.4 L506.3,307.7 L506.9,307.3 L507.6,306.9 L508.1,306.3 L508.8,306.0 L509.1,306.7 L509.2,307.5 L510.1,307.8 L510.2,308.6 L510.7,309.2 L510.5,310.1 L511.4,310.5 L511.7,309.8 L512.6,309.7 L512.7,308.7 L513.2,308.2 L514.0,307.9 L514.0,308.7 L514.5,309.4 L515.1,310.0 L515.5,310.7 L515.0,311.7 L515.7,312.2 L515.9,313.0 L516.1,313.8 L516.8,314.3 L517.1,315.0 L517.6,315.6 L517.6,316.6 L518.5,316.9 L518.4,317.8 L519.3,318.2 L519.6,318.8 L520.2,319.3 L520.0,320.3 L521.1,320.5 L521.0,321.4 L521.3,320.7 L522.3,320.7 L521.9,319.4 L522.9,319.4 L523.2,318.7 L523.2,317.9 L523.3,317.2 L523.2,316.4 L523.2,315.7 L523.9,315.0 L523.9,314.2 L524.0,313.5 L523.6,312.7 L524.2,312.0 L523.9,311.2 L524.2,310.5 L524.1,309.7 L524.7,309.1 L525.0,308.4 L524.7,307.5 L525.6,307.0 L525.6,306.3 L526.1,305.6 L526.4,304.9 L526.2,304.1 L526.7,303.5 L526.6,302.8 L527.5,302.4 L527.5,301.6 L527.3,300.8 L528.2,300.4 L528.1,299.6 L528.1,300.4 L528.7,300.9 L528.9,301.6 L529.3,302.3 L529.0,303.1 L529.5,303.7 L529.6,304.4 L529.8,305.1 L530.1,305.8 L530.0,306.6 L530.4,307.2 L531.1,307.7 L531.5,308.4 L532.0,309.0 L532.2,309.9 L532.6,310.5 L533.2,310.0 L532.8,309.1 L533.8,308.7 L534.0,308.1 L534.1,307.3 L534.3,306.7 L534.5,306.0 L534.9,305.3 L534.9,304.6 L535.2,303.9 L535.6,303.3 L535.7,302.5 L535.4,301.7 L535.4,300.9 L536.4,300.4 L536.1,299.6 L536.4,298.9 L536.9,299.6 L537.8,298.9 L538.3,299.6 L538.5,298.9 L538.7,298.3 L539.3,297.8 L539.7,297.2 L539.5,296.4 L539.8,295.8 L540.0,295.1 L540.4,295.8 L540.7,296.4 L540.3,297.4 L541.4,297.8 L540.8,298.8 L541.3,299.4 L542.1,299.9 L541.6,300.9 L542.2,301.5 L542.0,300.7 L542.6,300.0 L542.4,299.2 L543.3,298.5 L542.8,297.7 L543.5,297.0 L542.9,296.1 L543.6,295.4 L543.3,294.6 L543.8,293.9 L543.6,293.0 L544.4,292.5 L545.1,291.9 L545.0,291.0 L545.5,290.4 L545.4,289.5 L545.3,290.3 L545.8,290.9 L546.3,291.5 L546.1,292.4 L546.6,293.0 L546.5,293.8 L546.9,294.4 L546.9,295.2 L547.1,295.9 L547.5,296.6 L547.3,297.4 L547.7,298.1 L547.8,298.8 L548.3,299.5 L548.1,300.3 L548.3,301.0 L549.0,300.6 L550.0,300.8 L550.3,299.7 L550.9,299.8 L551.6,299.0 L552.2,299.7 L552.7,300.3 L552.9,300.9 L552.8,301.7 L552.8,302.5 L553.1,303.1 L553.4,303.7 L554.1,304.2 L553.9,305.0 L554.3,305.6 L554.5,306.3 L555.7,306.6 L555.5,307.4 L555.6,308.1 L556.0,308.7 L556.0,309.5 L556.2,310.2 L556.3,311.0 L556.2,311.8 L556.7,312.5 L556.7,311.5 L557.7,311.3 L558.6,311.0 L558.6,310.0 L558.3,309.2 L558.5,308.4 L559.2,307.8 L559.4,307.0 L558.8,306.1 L558.9,305.4 L559.7,304.7 L559.7,303.9 L559.7,303.1 L559.8,302.4 L559.9,301.6 L560.4,300.9 L560.6,300.2 L560.1,299.3 L560.4,298.6 L561.3,298.0 L561.7,297.4 L561.5,296.5 L562.2,296.0 L562.1,295.2 L562.3,294.5 L562.8,293.9 L563.2,294.5 L563.8,295.0 L563.3,296.0 L564.1,296.4 L564.0,297.2 L564.4,297.8 L564.8,298.5 L565.5,299.0 L565.6,299.9 L566.3,300.3 L566.7,301.0 L567.1,301.7 L566.7,302.5 L567.6,303.1 L567.8,303.8 L567.9,304.6 L567.8,305.3 L567.8,306.1 L568.2,306.8 L568.6,307.5 L568.9,308.1 L568.8,309.0 L569.4,309.6 L569.4,310.4 L569.9,311.0 L569.5,311.9 L570.1,312.5 L570.6,313.1 L570.8,313.8 L570.9,314.6 L571.1,315.3 L570.9,316.1 L571.2,316.8 L571.3,317.6 L571.8,318.2 L572.0,318.9 L572.9,319.0 L572.7,320.2 L573.8,320.1 L574.0,320.9 L574.0,320.1 L574.4,319.4 L575.2,318.9 L574.8,318.0 L575.1,317.2 L575.8,316.7 L576.1,316.0 L575.9,315.1 L576.4,314.5 L576.8,313.8 L577.8,313.8 L578.7,314.2 L579.4,314.0 L580.0,313.1 L580.8,313.2 L580.8,313.9 L581.4,314.4 L581.8,315.0 L581.7,315.8 L581.8,316.5 L582.3,317.0 L582.7,316.4 L583.6,316.0 L583.2,314.7 L584.2,314.5 L584.6,315.0 L585.1,315.4 L585.9,315.6 L585.4,316.9 L586.2,317.0 L587.2,317.0 L587.7,317.5 L588.1,318.3 L588.9,317.9 L589.5,317.4 L589.4,316.4 L590.2,316.0 L589.9,315.0 L590.8,314.7 L590.3,313.7 L591.0,313.2 L591.0,313.9 L591.0,314.6 L591.8,315.0 L592.1,315.7 L591.9,316.4 L591.9,317.2 L591.9,318.0 L592.1,318.8 L592.1,319.6 L592.7,320.3 L592.9,321.0 L593.2,321.8 L593.2,322.6 L593.2,323.4 L593.7,322.8 L593.2,321.9 L593.4,321.2 L593.7,320.5 L593.6,319.7 L594.0,319.1 L594.1,318.3 L594.5,317.7 L594.6,316.8 L595.5,316.7 L596.0,316.2 L596.4,315.7 L597.1,315.4 L597.9,315.3 L598.4,314.6 L599.0,314.2" fill="none" stroke="#ffffff" stroke-opacity="0.9" stroke-width="8" stroke-linejoin="round" stroke-linecap="round"/>
<path d="M81.4,255.9 L81.4,255.1 L81.5,254.4 L81.8,253.6 L81.5,252.8 L81.6,252.1 L81.7,251.3 L81.5,250.5 L81.7,249.7 L81.8,249.0 L81.8,248.2 L82.1,249.0 L83.0,249.0 L83.4,249.7 L83.3,250.4 L83.5,251.1 L83.1,251.9 L83.2,252.6 L83.8,253.3 L83.5,254.0 L83.9,253.3 L84.0,252.6 L83.8,251.8 L83.9,251.1 L83.6,250.4 L83.6,249.6 L84.1,248.9 L83.8,248.2 L84.2,247.5 L85.0,247.5 L85.2,248.3 L85.2,249.0 L85.4,249.8 L85.2,250.6 L85.2,251.3 L85.1,252.1 L85.3,252.9 L85.2,253.6 L85.4,254.4 L85.3,255.2 L85.5,255.9 L85.6,256.7 L85.3,257.5 L85.3,258.2 L85.6,259.0 L85.6,259.8 L86.1,260.2 L86.9,260.4 L87.4,260.9 L87.5,261.6 L87.7,262.3 L87.8,263.1 L87.5,263.9 L87.8,264.6 L87.6,265.4 L87.9,266.1 L87.7,266.9 L87.8,267.6 L88.3,268.3 L88.2,269.1 L87.9,269.9 L88.2,270.6 L88.6,271.2 L88.3,272.1 L89.3,272.3 L89.5,273.0 L90.0,272.0 L91.0,272.5 L91.3,271.8 L91.5,271.1 L91.2,270.3 L91.2,269.5 L91.6,268.8 L92.2,268.2 L92.0,267.4 L92.8,267.6 L93.1,266.4 L94.0,266.8 L94.7,266.9 L95.4,267.1 L95.5,268.0 L95.3,267.1 L96.3,266.7 L95.9,265.8 L96.5,265.2 L96.7,264.4 L96.7,263.6 L97.2,263.0 L97.4,263.8 L98.5,264.0 L98.4,265.0 L99.0,265.5 L99.5,266.1 L99.5,266.9 L99.9,267.6 L100.0,268.4 L99.6,269.3 L99.9,269.9 L100.4,270.6 L100.7,271.3 L100.3,272.1 L101.0,272.7 L101.0,273.4 L100.8,274.2 L101.1,274.9 L101.7,275.5 L101.1,276.4 L101.6,277.0 L102.3,277.5 L102.7,278.1 L102.5,279.1 L103.4,279.4 L103.6,280.2 L104.3,280.5 L105.0,280.8 L105.5,281.4 L105.5,282.4 L106.1,282.8 L106.4,283.5 L106.3,284.3 L106.6,285.0 L106.6,285.8 L106.3,286.6 L106.8,287.3 L107.2,287.9 L107.6,288.6 L107.7,289.4 L108.8,289.5 L109.3,290.1 L109.3,291.0 L109.2,291.9 L109.7,292.6 L110.7,293.0 L111.1,293.6 L110.9,294.6 L111.5,295.2 L112.4,295.9 L112.9,294.5 L113.9,295.7 L114.6,295.5 L115.3,294.9 L116.0,294.6 L116.3,295.3 L116.9,295.9 L117.2,296.5 L116.6,297.6 L117.6,298.0 L117.4,298.9 L118.1,299.4 L117.8,300.3 L118.2,300.9 L118.6,301.6 L118.6,300.8 L118.8,300.0 L119.5,299.4 L119.1,298.5 L119.5,297.7 L120.1,297.1 L120.6,296.4 L120.6,295.6 L120.5,294.7 L121.4,294.2 L121.2,293.3 L121.5,294.0 L121.8,294.7 L121.9,295.5 L121.9,296.2 L122.3,296.9 L122.4,297.7 L122.5,298.4 L122.6,299.2 L123.0,299.9 L123.1,300.6 L123.0,301.4 L123.1,302.2 L123.4,302.9 L123.7,303.6 L124.1,303.0 L124.3,302.4 L124.1,301.5 L124.3,300.9 L125.0,300.4 L125.9,300.7 L125.4,302.0 L126.1,302.4 L126.2,303.3 L127.6,303.2 L127.4,304.3 L128.0,304.8 L128.1,305.6 L128.8,306.1 L129.5,305.9 L129.9,307.2 L130.9,305.8 L131.3,306.7 L132.0,306.8 L132.0,307.5 L132.0,308.2 L132.3,308.9 L132.5,309.5 L132.6,310.2 L132.7,310.9 L133.2,311.5 L133.5,312.2 L133.5,313.0 L133.5,313.8 L133.7,314.5 L134.3,315.1 L134.2,315.9 L134.3,316.7 L134.8,317.3 L135.1,318.0 L135.4,318.7 L136.1,319.2 L136.4,319.9 L136.8,320.6 L137.8,320.8 L137.7,321.9 L138.3,322.4 L138.0,323.3 L138.3,324.0 L138.6,324.7 L139.1,325.4 L139.0,326.3 L139.3,327.0 L139.6,327.7 L139.5,328.6 L140.3,329.2 L139.9,330.1 L140.3,330.8 L140.3,329.8 L141.3,329.8 L141.7,329.2 L141.8,328.4 L142.8,328.3 L143.0,327.5 L143.5,327.0 L143.8,327.7 L143.9,328.6 L145.0,328.7 L145.7,329.2 L145.8,330.0 L145.8,330.9 L146.7,331.3 L147.1,331.9 L146.8,333.0 L147.4,333.5 L148.0,334.0 L148.3,333.3 L149.2,333.0 L149.0,332.0 L149.7,331.5 L149.9,330.8 L150.6,331.3 L150.7,332.2 L150.6,333.1 L150.9,333.8 L151.2,334.5 L152.1,334.9 L152.2,335.7 L152.9,336.3 L153.4,336.9 L153.4,337.8 L153.7,338.5 L154.5,338.9 L155.1,338.8 L155.8,338.4 L156.5,338.7 L157.0,337.8 L157.8,337.9 L158.5,338.1 L158.9,338.9 L159.7,339.0 L160.1,339.7 L160.9,340.0 L161.3,340.7 L161.6,341.5 L162.2,341.9 L163.0,342.3 L163.3,343.0 L164.1,342.8 L164.8,342.5 L164.8,341.5 L165.3,341.0 L165.2,340.2 L165.3,339.5 L165.8,338.8 L165.5,338.0 L166.0,337.3 L166.0,336.5 L166.0,335.7 L166.3,335.0 L166.0,334.2 L166.2,333.4 L166.5,332.7 L166.4,331.9 L166.9,331.2 L166.7,330.4 L166.8,329.7 L166.8,328.9 L167.2,328.2 L167.5,327.5 L167.5,326.6 L167.9,325.9 L168.1,325.2 L168.4,324.4 L168.7,323.7 L168.7,322.9 L168.5,322.0 L168.9,321.3 L169.1,320.5 L169.5,319.7 L170.1,319.2 L171.0,319.7 L171.8,319.8 L172.3,319.2 L172.3,318.4 L172.5,317.7 L172.7,317.0 L173.0,316.3 L173.0,315.5 L173.2,314.8 L173.5,314.1 L173.4,313.3 L173.8,312.6 L174.0,311.9 L173.7,311.0 L174.3,310.4 L174.2,309.6 L174.4,308.8 L174.1,308.0 L174.4,307.3 L174.6,306.5 L174.8,305.8 L174.6,305.0 L174.6,304.2 L174.8,303.5 L175.1,302.7 L175.1,302.0 L175.3,301.2 L175.1,300.4 L175.3,299.7 L175.0,298.9 L175.5,298.2 L175.4,297.4 L175.7,296.7 L175.7,295.9 L175.9,295.1 L175.8,294.3 L176.3,293.6 L176.4,292.8 L176.6,292.0 L176.5,291.2 L176.7,290.5 L176.6,289.6 L177.1,288.9 L177.2,288.1 L177.0,287.3 L177.0,286.5 L177.3,285.8 L177.5,285.0 L177.8,284.3 L177.8,283.5 L177.9,282.7 L178.8,283.0 L178.4,284.2 L179.2,284.6 L179.6,285.4 L179.1,286.2 L179.7,286.9 L179.6,287.7 L179.4,288.6 L179.9,289.3 L180.0,290.1 L179.8,290.9 L179.9,291.7 L180.1,290.9 L180.3,290.2 L180.2,289.4 L180.4,288.7 L180.2,287.9 L180.5,287.1 L180.0,286.3 L180.1,285.6 L180.4,284.8 L180.3,284.1 L180.5,283.3 L180.8,282.6 L181.0,281.8 L181.2,281.1 L181.5,280.4 L181.6,279.6 L181.7,278.8 L182.0,278.1 L182.4,277.4 L182.7,276.7 L182.5,275.8 L183.1,275.2 L183.1,274.4 L184.1,274.6 L184.1,273.6 L184.7,273.3 L184.8,272.4 L185.6,272.4 L186.0,273.1 L186.4,273.7 L186.7,274.4 L187.7,274.6 L187.6,275.6 L188.1,274.9 L187.8,274.1 L187.8,273.4 L188.2,272.7 L188.1,271.9 L188.2,271.1 L188.4,270.4 L188.1,269.6 L188.5,268.9 L188.5,268.2 L189.1,267.5 L188.8,266.7 L188.6,267.5 L189.1,268.2 L189.0,269.0 L189.3,269.7 L189.2,270.5 L189.0,271.3 L189.0,272.1 L189.3,272.8 L189.5,273.6 L189.6,274.3 L189.5,275.1 L189.4,275.9 L189.8,276.6 L189.6,277.4 L190.0,278.2 L190.0,278.9 L190.1,279.7 L189.9,280.5 L190.1,281.2 L190.1,282.0 L190.1,281.2 L190.2,280.4 L190.0,279.7 L190.4,278.9 L190.1,278.1 L190.3,277.3 L190.2,276.5 L190.2,275.8 L190.5,275.0 L190.5,274.2 L190.5,273.4 L190.5,272.7 L190.6,271.9 L190.5,271.1 L190.5,270.3 L190.8,269.6 L190.8,268.8 L190.8,268.0 L191.1,267.3 L191.8,266.7 L191.8,265.9 L192.4,265.3 L192.1,264.3 L192.9,263.8 L193.3,263.1 L193.3,262.2 L193.1,263.0 L193.6,263.6 L193.7,264.4 L193.3,265.1 L194.0,265.8 L193.4,266.6 L193.6,267.3 L194.0,268.0 L193.8,267.2 L194.1,266.5 L194.6,265.9 L194.4,265.1 L194.4,264.3 L195.1,263.7 L194.9,262.9 L195.4,262.3 L195.3,261.5 L195.1,260.7 L195.3,259.9 L195.5,259.2 L195.1,258.4 L195.3,257.6 L195.5,256.8 L195.7,256.0 L195.7,255.2 L195.3,254.4 L195.5,253.7 L195.7,252.9 L195.6,252.1 L195.7,251.3 L195.5,250.5 L195.4,249.8 L195.5,249.0 L195.5,248.2 L195.8,247.4 L195.8,246.6 L195.8,245.8 L195.6,245.1 L195.7,244.3 L195.7,243.5 L196.1,242.7 L196.2,241.9 L196.2,241.2 L195.7,240.4 L195.7,239.6 L196.0,238.8 L196.3,238.1 L196.0,237.3 L196.2,236.5 L196.0,235.8 L196.1,235.0 L196.2,234.3 L196.2,233.5 L196.3,232.8 L196.0,232.0 L196.4,231.3 L196.5,230.5 L196.2,229.8 L196.4,229.0 L196.5,228.3 L196.4,227.5 L196.3,226.7 L196.5,226.0 L196.4,225.2 L196.6,224.4 L196.4,223.6 L196.9,222.8 L196.9,222.0 L196.9,221.2 L197.0,220.5 L197.0,219.7 L196.9,218.9 L197.1,218.1 L197.1,217.3 L197.4,216.5 L197.3,215.7 L197.1,214.9 L197.5,214.1 L197.3,213.3 L197.5,212.5 L197.5,211.7 L197.6,210.9 L197.4,210.1 L197.8,209.4 L197.8,208.6 L197.8,207.8 L197.8,207.0 L197.9,206.2 L197.7,205.4 L198.0,204.6 L197.7,203.8 L197.9,203.0 L198.0,202.3 L197.8,201.5 L198.0,200.7 L198.2,199.9 L198.3,199.1 L198.1,198.3 L198.5,197.5 L198.4,196.7 L198.3,195.9 L198.5,195.2 L198.5,194.4 L198.6,193.6 L198.6,192.8 L198.6,192.0 L198.9,191.3 L198.7,190.5 L198.8,189.7 L198.8,188.9 L199.0,188.2 L198.5,187.4 L198.8,186.6 L198.9,185.8 L198.7,185.0 L198.7,184.3 L198.6,183.5 L198.7,182.7 L198.8,181.9 L198.7,181.2 L198.8,180.4 L199.1,179.6 L199.0,178.8 L198.9,178.1 L199.2,177.3 L199.0,176.5 L199.3,175.7 L199.1,175.0 L199.2,174.2 L198.8,173.4 L199.1,172.6 L199.2,171.9 L198.9,171.1 L199.4,170.3 L199.0,169.5 L199.1,168.8 L199.0,168.0 L199.2,167.2 L199.2,166.4 L199.3,165.6 L199.0,164.8 L199.5,164.1 L199.3,163.3 L199.4,162.5 L199.4,161.7 L199.3,160.9 L199.3,160.1 L199.6,159.3 L199.5,158.5 L199.4,157.7 L199.7,157.0 L199.5,156.2 L199.3,155.4 L199.5,154.6 L199.4,153.8 L199.5,153.0 L199.8,152.2 L199.7,151.4 L200.0,150.6 L199.9,149.9 L199.6,149.1 L200.1,148.3 L200.1,147.5 L199.9,146.7 L199.7,145.9 L200.5,145.2 L200.2,144.4 L200.4,143.6 L200.9,142.9 L200.5,142.0 L200.8,141.3 L201.3,140.6 L201.3,139.8 L201.2,139.0 L201.3,139.8 L201.1,140.6 L201.3,141.3 L201.6,142.1 L202.1,142.8 L201.8,143.6 L202.1,144.4 L202.4,145.1 L202.6,145.9 L202.4,146.7 L202.5,147.5 L202.7,148.2 L202.6,149.0 L202.6,149.8 L202.8,150.6 L203.0,151.4 L202.9,152.2 L203.0,153.0 L202.9,153.8 L203.1,154.5 L202.9,155.3 L203.0,156.1 L203.2,156.9 L203.6,157.7 L203.7,158.4 L203.3,159.3 L203.5,160.0 L203.7,160.8 L203.8,161.6 L204.3,162.3 L204.6,163.0 L204.4,163.8 L204.7,164.6 L205.0,165.3 L205.4,164.7 L205.7,164.0 L206.0,163.4 L205.7,162.5 L206.3,162.0 L206.2,161.2 L206.9,160.6 L207.0,159.8 L207.0,159.1 L206.5,158.2 L206.6,157.5 L206.9,156.8 L207.1,156.1 L207.4,155.3 L207.1,154.5 L207.5,153.8 L207.6,153.1 L208.1,153.8 L208.2,154.5 L207.8,155.3 L208.1,156.0 L208.1,156.8 L208.5,157.5 L208.5,158.2 L208.6,159.0 L208.8,159.7 L208.7,160.5 L208.6,161.3 L208.6,162.1 L209.0,162.8 L209.1,163.6 L208.7,164.4 L208.9,165.1 L208.9,165.9 L209.2,166.7 L209.1,167.4 L209.3,168.2 L209.0,169.0 L209.3,169.7 L209.2,170.5 L209.1,171.3 L209.5,172.1 L209.4,172.8 L209.5,173.6 L209.4,174.4 L209.4,175.2 L209.7,175.9 L209.8,176.7 L210.0,177.4 L209.6,178.2 L210.1,179.0 L210.1,179.7 L209.9,180.5 L210.0,181.3 L210.0,182.1 L210.2,182.8 L210.0,183.6 L210.5,184.3 L210.4,185.1 L210.2,185.9 L210.6,186.6 L210.5,187.4 L210.4,188.2 L210.4,189.0 L210.7,189.7 L210.8,190.5 L210.8,191.3 L210.6,192.0 L210.8,192.8 L211.0,193.6 L211.2,194.4 L210.8,195.2 L211.0,196.0 L210.8,196.8 L210.9,197.6 L211.0,198.3 L211.4,199.1 L211.4,199.9 L211.8,199.2 L211.6,198.4 L211.7,197.7 L212.0,197.0 L212.6,196.4 L212.7,195.6 L212.3,194.8 L212.7,194.1 L212.7,193.4 L212.8,192.7 L213.0,191.9 L213.1,191.2 L213.3,190.5 L213.2,189.8 L213.7,189.1 L214.0,188.5 L213.9,187.7 L214.0,187.0 L213.8,187.8 L214.0,188.6 L214.2,189.3 L214.0,190.1 L213.9,190.9 L214.3,191.6 L214.4,192.4 L214.2,193.2 L214.2,194.0 L214.2,194.8 L214.0,195.5 L214.2,196.3 L214.2,197.1 L214.6,197.8 L214.3,198.6 L214.2,199.4 L214.6,200.2 L214.7,200.9 L214.3,201.7 L214.3,202.5 L214.7,203.3 L214.5,204.1 L214.8,204.8 L214.6,205.6 L214.6,206.4 L215.0,207.1 L215.7,207.7 L216.0,208.5 L215.7,209.4 L216.2,210.1 L216.5,210.8 L216.5,211.6 L216.9,212.3 L217.1,213.0 L216.9,213.8 L217.2,214.5 L217.5,215.2 L217.6,216.0 L217.7,216.8 L217.9,217.5 L217.9,218.3 L218.4,218.9 L218.5,219.7 L218.3,220.5 L218.5,221.3 L218.4,222.0 L218.4,222.8 L218.4,223.6 L218.4,224.4 L218.4,225.1 L218.6,225.9 L218.7,226.7 L218.6,227.5 L218.6,228.2 L218.8,229.0 L218.8,229.8 L219.0,230.5 L218.7,231.3 L218.6,232.1 L218.9,232.9 L219.1,233.6 L219.1,234.4 L219.0,235.2 L219.1,236.0 L218.7,236.8 L219.2,237.5 L219.1,238.3 L219.2,239.1 L219.0,239.9 L218.9,240.6 L219.1,241.4 L219.9,241.1 L220.5,241.1 L220.8,242.0 L220.8,241.2 L221.0,240.5 L221.2,239.8 L220.8,239.0 L220.9,238.2 L220.9,237.5 L221.0,236.7 L221.1,236.0 L221.4,235.2 L221.4,234.5 L221.2,233.7 L221.3,233.0 L221.4,232.2 L221.4,231.4 L221.7,230.7 L221.5,229.9 L221.7,229.2 L221.8,229.9 L221.7,230.7 L222.2,231.4 L222.5,232.1 L222.1,232.9 L222.2,233.6 L222.9,234.2 L222.9,235.0 L223.0,235.8 L222.8,236.6 L223.3,237.3 L223.7,238.1 L224.0,238.8 L223.4,239.7 L223.7,240.5 L224.2,241.2 L224.2,242.0 L224.5,242.7 L224.9,243.3 L225.6,243.8 L225.2,244.9 L225.9,245.3 L226.7,245.7 L226.8,246.5 L227.8,246.6 L227.7,247.5 L228.2,248.0 L228.2,248.9 L228.7,249.4 L229.4,249.7 L229.4,250.4 L229.9,251.1 L230.0,251.8 L230.0,252.5 L230.2,253.2 L229.8,254.0 L230.2,254.7 L230.2,255.4 L230.1,256.2 L230.6,256.8 L230.8,256.0 L231.4,255.5 L231.4,254.6 L232.5,254.4 L232.6,253.6 L233.4,252.9 L233.7,254.5 L234.3,254.6 L235.1,254.2 L235.8,253.9 L235.4,252.8 L236.0,252.5 L236.9,252.3 L237.0,251.6 L237.0,250.7 L237.8,250.5 L238.3,250.0 L239.2,249.9 L239.3,249.0 L239.6,248.4 L239.7,249.3 L240.7,249.3 L240.7,250.3 L241.5,250.6 L241.4,251.5 L242.8,251.4 L242.8,252.3 L242.7,253.1 L243.6,253.6 L243.5,254.4 L243.8,255.1 L244.4,255.7 L244.0,256.6 L244.8,257.1 L245.1,257.8 L245.6,258.4 L245.4,259.3 L245.9,259.9 L246.1,260.6 L246.1,261.4 L246.8,261.8 L246.8,262.6 L247.3,263.2 L247.2,262.4 L247.7,261.7 L248.0,261.0 L248.7,260.4 L248.8,259.7 L248.9,258.9 L248.5,258.0 L249.2,257.4 L249.9,257.3 L250.6,257.7 L251.1,257.1 L250.9,256.2 L251.5,255.6 L251.7,254.9 L251.6,254.0 L252.8,253.7 L252.9,252.9 L252.6,252.0 L253.3,251.4 L253.3,250.6 L253.8,250.0 L254.2,250.6 L254.3,251.3 L254.7,251.9 L255.0,252.6 L255.2,253.3 L255.3,254.0 L255.8,253.3 L255.7,252.5 L255.9,251.7 L256.7,251.2 L256.6,250.3 L257.5,249.9 L257.5,249.0 L257.9,248.3 L258.0,247.5 L258.6,247.6 L258.7,248.6 L259.5,248.4 L260.1,249.1 L260.2,249.9 L260.5,250.6 L260.1,251.5 L260.3,252.3 L261.0,253.0 L260.9,253.8 L261.5,253.3 L262.2,253.2 L262.4,252.4 L262.3,251.7 L262.1,250.9 L262.2,250.1 L262.2,249.3 L262.2,248.6 L262.4,247.8 L262.2,247.0 L262.7,246.3 L262.5,245.5 L262.5,244.7 L262.6,244.0 L262.7,243.2 L262.8,242.4 L262.6,241.6 L262.6,240.9 L262.7,240.1 L262.5,239.3 L262.7,238.6 L262.8,237.8 L263.2,237.1 L263.6,236.5 L263.6,235.7 L263.7,234.9 L263.8,234.2 L263.5,233.3 L264.1,232.7 L264.5,233.4 L264.7,234.2 L264.6,235.0 L265.3,235.6 L265.3,236.4 L265.4,237.2 L265.7,236.6 L266.2,236.0 L266.5,235.4 L266.6,234.7 L266.4,233.8 L267.3,233.5 L267.3,232.7 L267.6,233.7 L268.5,233.6 L269.2,234.0 L269.2,233.2 L269.4,232.5 L269.3,231.7 L269.8,231.0 L270.2,230.2 L269.9,229.4 L270.2,228.7 L270.4,227.9 L270.0,227.1 L270.7,226.4 L270.5,225.6 L270.5,226.4 L270.8,227.1 L270.9,227.9 L270.8,228.7 L270.7,229.5 L270.7,230.3 L270.9,231.0 L270.7,231.8 L271.0,232.6 L271.0,233.4 L271.3,234.2 L270.8,235.0 L271.3,235.7 L271.2,236.5 L271.5,235.7 L271.4,234.9 L271.5,234.2 L271.6,233.4 L271.5,232.6 L271.9,231.9 L272.1,231.1 L272.1,230.3 L272.0,229.5 L271.9,228.7 L272.3,228.0 L272.1,227.1 L272.5,226.4 L272.4,225.6 L272.6,226.3 L272.6,227.1 L272.5,227.8 L273.0,228.5 L272.9,229.3 L273.2,230.0 L273.4,230.7 L273.4,231.5 L273.0,232.3 L273.2,233.0 L273.4,233.7 L273.7,234.4 L273.7,235.2 L274.0,234.5 L274.3,233.8 L274.2,233.0 L274.5,232.3 L274.9,231.6 L274.4,230.7 L275.0,230.1 L275.6,230.7 L275.6,231.5 L276.2,232.2 L276.2,233.0 L276.3,233.8 L276.9,234.4 L276.9,235.2 L277.0,236.0 L277.2,236.7 L277.2,237.5 L277.4,238.2 L277.4,239.0 L277.8,239.7 L277.6,240.5 L278.0,241.2 L277.6,242.0 L277.9,242.7 L278.1,243.4 L278.2,244.2 L278.5,243.6 L279.2,243.2 L279.7,242.8 L280.2,242.3 L280.6,241.8 L280.8,241.0 L281.0,241.7 L280.7,242.6 L281.1,243.3 L281.2,244.0 L281.8,244.6 L282.0,245.4 L282.1,246.1 L282.3,245.4 L282.6,244.6 L282.4,243.9 L282.5,243.1 L282.5,242.3 L282.7,241.6 L282.6,242.5 L283.3,243.0 L283.8,243.6 L283.4,244.6 L283.5,245.3 L283.9,246.0 L284.3,246.7 L284.6,247.4 L284.7,248.2 L285.6,248.5 L285.7,249.4 L286.7,249.7 L287.0,250.3 L287.1,251.2 L287.4,251.9 L287.8,252.5 L287.8,251.7 L287.6,250.9 L288.2,250.2 L288.1,249.4 L288.0,248.6 L288.1,247.8 L288.3,247.0 L288.2,246.3 L288.5,245.5 L288.7,244.5 L290.1,245.1 L290.8,244.7 L291.0,243.6 L291.1,244.4 L291.2,245.2 L291.9,245.8 L291.8,246.6 L292.6,247.1 L292.4,248.1 L292.9,248.7 L293.3,248.1 L294.0,247.6 L293.5,246.5 L294.2,246.1 L294.1,246.9 L294.9,247.4 L294.8,248.2 L294.6,249.1 L295.7,249.5 L295.6,250.3 L295.8,251.0 L296.0,251.7 L296.4,252.4 L296.2,253.2 L297.0,252.8 L297.3,252.1 L297.2,251.2 L297.6,250.6 L298.1,250.0 L298.2,250.7 L298.8,251.3 L299.0,252.0 L298.4,252.9 L299.1,253.5 L299.1,254.3 L298.9,255.1 L299.4,255.7 L300.2,255.3 L300.0,254.4 L300.0,253.7 L300.6,253.2 L301.0,253.9 L300.6,254.8 L300.8,255.6 L301.7,256.2 L301.3,257.1 L301.9,257.8 L302.0,258.6 L302.5,259.3 L302.1,260.2 L302.6,260.9 L303.4,260.5 L302.9,259.5 L303.6,259.0 L303.8,258.3 L304.4,258.8 L304.0,259.8 L305.1,260.0 L305.3,260.7 L305.0,261.6 L305.7,262.1 L305.8,262.8 L305.6,263.6 L305.9,264.2 L306.2,264.8 L307.0,265.2 L306.7,266.0 L307.1,266.6 L307.6,266.0 L307.4,265.2 L307.2,264.4 L307.5,263.7 L307.7,263.0 L308.2,262.4 L307.9,261.6 L308.3,260.9 L309.0,261.4 L309.2,262.0 L309.1,262.9 L309.6,263.4 L310.1,262.8 L309.9,261.9 L310.4,261.3 L310.8,260.7 L310.7,259.9 L310.6,259.1 L310.9,258.4 L311.7,257.8 L311.5,257.0 L311.9,256.3 L311.7,255.5 L312.2,254.9 L311.9,254.1 L312.9,253.6 L312.6,252.8 L312.9,252.1 L313.1,251.4 L312.9,250.6 L313.5,250.0 L314.2,249.9 L314.6,249.2 L315.4,249.3 L315.6,248.5 L316.6,248.3 L316.7,247.4 L317.7,247.4 L318.2,248.1 L318.3,249.1 L319.2,249.3 L319.3,248.5 L319.8,247.9 L320.5,247.4 L320.5,246.5 L321.6,246.4 L322.1,245.8 L321.5,244.5 L322.4,244.2 L322.5,243.4 L322.7,242.7 L322.6,241.9 L322.9,241.2 L322.8,240.4 L322.7,239.7 L323.0,238.9 L323.1,238.2 L323.0,237.4 L323.2,236.7 L323.4,235.9 L323.3,235.2 L323.4,234.4 L323.7,233.7 L323.6,232.9 L323.6,232.2 L323.7,231.4 L324.1,230.6 L323.6,229.8 L324.1,229.1 L323.8,228.2 L324.2,227.5 L324.0,226.6 L324.2,225.9 L324.5,225.1 L324.4,224.3 L324.4,225.1 L324.7,225.8 L325.6,226.3 L325.7,227.1 L326.3,227.7 L326.3,228.5 L326.5,227.7 L326.6,227.0 L326.4,226.1 L326.9,225.4 L327.0,224.7 L327.1,223.9 L327.4,223.1 L327.1,222.3 L327.3,221.5 L327.3,220.7 L327.7,220.0 L327.8,219.2 L327.9,218.4 L327.9,217.7 L328.2,216.9 L328.1,217.7 L328.9,218.2 L328.3,219.1 L328.7,219.8 L328.9,220.5 L328.8,221.2 L329.4,221.8 L329.7,222.5 L329.5,223.3 L330.0,224.0 L330.5,224.6 L330.5,225.5 L330.5,226.3 L330.8,227.0 L331.4,227.7 L331.4,228.5 L331.5,227.7 L331.4,226.9 L331.9,226.1 L331.6,225.3 L331.8,224.5 L331.8,223.7 L332.2,223.0 L332.4,222.2 L332.5,221.4 L332.2,220.5 L332.5,219.8 L332.5,219.0 L332.7,218.2 L332.6,217.5 L333.0,216.7 L332.6,216.0 L332.9,215.2 L333.1,214.5 L333.2,213.8 L332.8,213.0 L333.0,212.3 L333.2,211.6 L332.9,210.8 L333.1,210.1 L333.5,209.4 L333.3,208.6 L334.1,208.8 L334.2,209.6 L334.7,210.0 L334.9,210.6 L335.2,211.2 L335.8,211.8 L336.1,212.5 L335.4,213.5 L335.8,214.2 L336.1,214.9 L336.5,215.6 L336.8,216.3 L336.9,217.1 L336.9,217.9 L337.3,218.6 L337.3,219.3 L337.2,220.1 L337.7,220.8 L337.9,221.6 L337.7,222.4 L338.0,223.1 L338.5,223.8 L338.4,224.6 L338.4,223.8 L338.6,223.0 L338.4,222.2 L338.6,221.4 L338.9,220.7 L339.1,219.9 L339.0,219.1 L339.2,218.3 L339.1,217.5 L339.1,216.7 L339.4,215.9 L339.3,215.1 L339.5,214.4 L339.3,213.5 L339.5,212.8 L339.5,212.0 L339.7,211.2 L339.9,211.9 L340.4,212.5 L340.6,213.3 L340.8,214.0 L340.8,214.7 L341.1,215.4 L341.2,216.2 L340.9,217.0 L341.6,217.6 L341.8,218.3 L342.0,218.9 L343.1,218.8 L343.3,219.5 L343.6,220.1 L344.5,220.1 L344.4,221.2 L345.2,221.4 L345.5,222.0 L345.4,221.2 L345.4,220.4 L345.6,219.7 L345.8,218.9 L346.1,218.2 L346.6,217.5 L346.6,216.7 L346.4,215.9 L346.6,215.1 L346.8,214.4 L347.3,215.0 L346.8,216.0 L347.5,216.6 L347.3,217.4 L347.5,218.1 L347.6,218.9 L348.1,219.5 L348.9,219.9 L348.8,220.7 L349.0,221.4 L349.6,221.9 L349.1,222.9 L349.9,223.3 L350.0,224.0 L350.4,223.3 L350.3,222.6 L350.1,221.7 L350.6,221.1 L350.6,220.3 L350.6,219.6 L350.8,218.9 L351.3,218.2 L351.9,218.6 L352.8,217.8 L353.2,218.8 L353.4,219.6 L353.4,220.4 L353.5,221.1 L353.8,221.9 L353.6,222.7 L353.9,223.5 L353.7,224.3 L353.9,225.0 L354.2,225.8 L354.3,226.6 L354.3,227.4 L354.2,228.2 L354.5,228.9 L354.5,229.7 L354.6,229.0 L355.3,228.4 L354.9,227.5 L355.2,226.8 L355.4,226.1 L355.5,225.4 L355.6,224.6 L355.7,223.9 L356.4,223.3 L356.5,222.5 L356.5,221.8 L356.7,221.0 L356.8,220.2 L356.5,219.5 L356.7,218.7 L356.9,217.9 L356.6,217.2 L356.9,216.4 L356.9,215.6 L357.1,214.9 L357.1,214.1 L356.8,213.3 L357.0,212.6 L357.0,211.8 L356.9,210.9 L357.4,210.3 L357.6,209.6 L357.6,208.8 L358.1,208.1 L358.3,207.4 L358.7,206.7 L359.0,206.0 L359.8,205.9 L360.5,205.9 L360.9,206.7 L361.1,207.4 L361.1,208.2 L361.4,208.9 L361.1,209.6 L361.5,210.3 L361.7,211.0 L361.5,211.8 L361.7,211.1 L362.1,210.5 L362.1,209.7 L362.9,209.3 L363.3,208.7 L363.4,208.0 L363.4,208.8 L363.3,209.6 L363.7,210.4 L363.5,211.2 L363.6,212.0 L363.7,212.8 L363.6,213.6 L363.8,214.4 L363.6,215.2 L363.5,215.9 L363.6,216.7 L363.7,217.5 L363.8,218.3 L363.9,219.1 L363.8,219.9 L363.5,220.7 L363.7,221.5 L363.9,222.3 L363.7,223.1 L363.9,223.9 L363.8,224.7 L363.8,225.5 L363.6,226.3 L363.9,227.1 L363.8,227.9 L363.7,228.7 L363.8,229.5 L363.9,230.3 L363.9,231.0 L364.0,231.8 L364.0,232.6 L364.1,233.4 L363.8,234.2 L363.8,235.0 L364.1,235.8 L363.9,236.6 L364.1,237.4 L363.9,236.6 L363.9,235.8 L364.2,235.1 L364.1,234.3 L364.1,233.5 L364.5,232.7 L364.0,231.9 L364.1,231.1 L364.1,230.3 L364.4,229.6 L364.1,228.8 L364.0,228.0 L364.3,227.2 L364.3,226.4 L364.2,225.6 L364.4,224.9 L364.5,224.1 L364.4,223.3 L364.5,222.5 L364.5,221.7 L364.6,221.0 L364.7,220.2 L364.4,219.4 L364.4,218.6 L364.7,217.8 L364.4,217.0 L364.7,216.3 L364.7,215.5 L364.7,214.7 L364.9,213.9 L364.8,213.1 L364.4,212.3 L364.7,211.6 L364.7,210.8 L364.7,210.0 L364.7,209.2 L365.3,209.0 L366.0,208.8 L366.6,209.2 L367.1,208.6 L367.1,207.8 L367.1,207.0 L367.4,206.3 L367.7,205.6 L367.8,204.8 L368.4,204.2 L368.6,203.5 L368.9,204.2 L369.0,205.0 L369.1,205.7 L369.1,206.5 L368.7,207.3 L369.2,208.0 L369.0,208.8 L368.8,209.6 L369.1,210.3 L369.4,211.0 L369.2,211.8 L369.6,211.1 L369.8,210.3 L369.2,209.4 L369.5,208.7 L369.9,208.0 L370.2,207.2 L370.0,206.4 L370.4,205.7 L370.2,204.8 L370.5,204.1 L370.9,203.4 L370.7,202.6 L370.9,201.9 L371.5,201.3 L371.7,200.6 L371.9,199.8 L371.9,199.0 L372.0,198.3 L372.2,199.0 L372.3,199.8 L372.5,200.6 L372.6,201.3 L372.8,202.1 L373.3,202.7 L373.4,203.5 L373.4,204.3 L373.9,205.0 L374.1,205.8 L374.4,206.5 L374.3,207.3 L374.6,206.7 L375.2,206.2 L375.4,205.6 L374.8,204.6 L375.6,204.2 L375.6,203.5 L376.3,203.7 L376.8,204.3 L377.6,204.2 L378.2,204.7 L378.0,205.5 L378.1,206.2 L379.0,206.8 L378.6,207.6 L379.2,208.2 L379.5,209.0 L379.4,209.7 L379.2,210.5 L379.5,211.2 L379.3,212.1 L380.6,212.2 L380.7,213.0 L381.4,213.5 L381.2,214.4 L381.6,215.0 L381.6,215.8 L381.7,216.6 L381.8,217.4 L381.5,218.2 L381.5,219.0 L381.9,219.8 L381.8,220.6 L381.7,221.4 L381.7,222.2 L381.6,222.9 L381.9,223.7 L381.8,224.5 L381.9,225.3 L381.8,226.1 L382.1,226.9 L382.2,227.7 L382.0,228.5 L382.2,229.3 L381.8,230.1 L382.2,230.9 L382.0,231.7 L382.2,232.5 L382.1,233.3 L382.3,234.1 L382.0,234.9 L382.3,235.7 L382.0,236.5 L382.2,237.3 L382.2,238.0 L382.1,238.8 L382.2,239.6 L382.3,240.4 L382.4,241.2 L382.4,242.0 L381.9,242.8 L382.3,243.6 L382.4,244.4 L382.3,245.2 L382.2,246.0 L381.9,246.8 L382.2,247.6 L382.4,248.4 L382.1,249.2 L382.3,250.0 L382.4,250.8 L382.3,251.6 L382.5,252.4 L382.8,253.1 L382.5,253.9 L382.5,254.7 L382.6,255.5 L382.8,256.3 L382.5,257.1 L382.8,257.9 L383.1,257.2 L383.3,256.4 L383.1,255.6 L383.4,254.9 L383.5,254.2 L383.3,253.4 L383.3,252.6 L383.5,251.9 L383.6,251.1 L383.7,250.4 L383.9,249.6 L384.1,248.9 L384.1,249.7 L384.4,250.4 L384.4,251.2 L384.8,251.9 L384.8,252.6 L384.5,253.4 L385.1,254.1 L385.0,254.9 L384.9,255.7 L385.0,256.4 L385.2,257.2 L385.4,257.9 L385.5,257.2 L385.9,256.5 L386.1,255.8 L386.2,255.0 L386.5,254.3 L385.9,253.5 L386.4,252.8 L386.2,253.6 L386.8,254.3 L386.7,255.1 L387.2,255.8 L386.8,256.6 L387.3,257.3 L387.1,256.5 L387.9,256.0 L387.8,255.3 L388.3,254.7 L388.5,254.0 L389.1,253.5 L389.2,252.8 L389.5,252.1 L389.3,251.3 L389.5,250.6 L389.5,249.8 L389.5,249.1 L389.9,248.4 L389.7,247.6 L389.7,246.9 L389.9,246.1 L390.2,245.4 L390.0,244.7 L390.3,244.0 L390.3,243.2 L390.7,242.6 L391.2,242.0 L391.0,241.1 L391.3,240.4 L391.7,239.7 L392.4,239.3 L393.0,238.9 L393.7,238.9 L394.2,238.1 L395.0,238.8 L395.6,238.7 L395.8,239.5 L396.0,240.2 L396.0,241.0 L395.8,241.9 L396.6,242.5 L396.2,243.4 L396.8,244.1 L396.5,245.0 L396.9,245.7 L396.8,244.8 L397.9,244.4 L397.6,243.5 L398.4,243.0 L398.0,242.0 L398.4,241.3 L398.8,240.6 L399.5,240.3 L399.5,239.2 L400.1,238.8 L401.1,238.7 L401.4,238.0 L402.3,238.0 L402.1,237.0 L402.7,236.7 L403.0,237.4 L402.9,238.1 L402.5,238.9 L403.2,239.6 L402.9,240.3 L403.2,241.0 L403.1,241.8 L403.4,242.5 L403.3,243.2 L403.4,242.4 L403.7,241.7 L403.7,240.9 L403.6,240.2 L403.6,239.4 L403.7,238.6 L403.5,237.8 L404.1,237.1 L404.0,236.3 L403.9,235.6 L404.0,234.8 L404.0,235.6 L404.4,236.2 L404.7,237.0 L405.0,237.7 L404.8,238.5 L405.0,239.2 L405.3,239.9 L405.3,240.7 L405.6,241.5 L405.3,242.3 L405.4,243.1 L405.4,243.9 L405.4,244.7 L405.3,245.5 L405.7,246.2 L405.6,247.0 L405.3,247.8 L405.5,248.6 L405.8,249.4 L405.6,250.2 L405.5,251.0 L405.8,251.8 L405.6,252.6 L406.0,253.4 L405.6,254.2 L405.9,255.0 L406.0,255.8 L405.7,256.6 L405.9,257.4 L405.8,258.2 L405.8,258.9 L405.9,259.7 L406.1,260.5 L405.8,261.3 L406.4,262.1 L406.0,262.9 L406.2,263.7 L406.7,263.1 L406.5,262.3 L407.3,261.9 L407.2,261.1 L407.6,260.5 L407.8,259.8 L407.8,260.6 L408.9,260.6 L409.2,261.2 L409.2,262.0 L409.7,262.4 L410.7,262.3 L411.0,263.3 L411.7,263.7 L411.7,264.4 L412.2,265.0 L412.7,265.5 L412.4,266.4 L412.9,266.9 L412.9,267.8 L413.3,268.4 L413.9,269.0 L414.3,269.7 L414.3,270.5 L414.5,271.2 L415.0,271.9 L415.0,272.7 L415.3,273.4 L415.5,274.1 L415.5,274.9 L415.4,275.7 L415.6,276.5 L416.2,277.2 L416.3,277.9 L416.3,278.7 L416.8,278.1 L417.9,278.3 L418.2,277.4 L418.3,278.2 L418.2,278.9 L419.1,279.5 L418.5,280.4 L419.4,281.0 L419.2,281.8 L419.5,282.5 L420.5,282.6 L421.0,281.9 L421.4,281.2 L422.0,281.7 L421.9,282.6 L422.4,283.1 L423.2,283.6 L423.1,284.4 L423.3,285.1 L423.4,285.9 L423.3,286.6 L423.6,287.4 L423.4,288.2 L423.4,289.0 L423.8,289.7 L423.9,290.5 L423.6,291.3 L423.8,292.0 L424.0,292.8 L424.1,293.6 L423.7,294.4 L423.9,295.1 L424.1,295.9 L424.2,296.6 L423.8,297.4 L424.0,298.2 L424.1,299.0 L424.3,299.7 L424.3,300.5 L425.0,300.5 L425.5,301.0 L426.2,300.9 L426.5,301.7 L426.5,302.5 L426.7,303.2 L426.5,304.0 L426.8,304.8 L426.9,305.5 L426.9,306.3 L426.7,307.1 L427.2,307.8 L427.0,308.6 L427.2,309.4 L427.1,308.6 L427.4,307.9 L427.2,307.1 L427.7,306.3 L427.3,305.5 L427.8,304.8 L427.7,304.0 L427.6,303.2 L428.1,302.5 L427.8,301.7 L428.1,301.2 L428.9,301.2 L429.1,300.5 L429.5,301.1 L430.2,301.4 L431.0,301.6 L431.2,302.4 L431.6,303.0 L432.2,303.5 L432.5,304.2 L432.3,305.2 L433.4,305.4 L433.6,306.2 L433.8,306.9 L434.2,307.3 L435.1,307.5 L435.2,308.2 L435.4,307.5 L435.5,306.7 L436.5,306.5 L436.2,305.5 L436.7,304.9 L436.9,304.3 L437.4,303.7 L438.1,303.3 L438.5,302.6 L438.6,301.8 L439.0,301.2 L439.3,300.5 L439.1,299.6 L440.1,299.1 L439.6,298.1 L440.0,297.5 L440.3,296.7 L440.6,296.0 L441.3,295.9 L441.8,295.4 L442.0,294.6 L443.1,294.9 L443.2,294.0 L443.8,294.8 L444.4,293.1 L445.1,294.2 L445.7,294.0 L446.2,294.4 L446.9,294.6 L447.3,295.2 L448.0,295.4 L448.3,296.0 L449.0,295.8 L449.5,295.3 L450.4,295.3 L450.9,294.8 L451.4,294.4 L451.5,293.4 L452.1,293.2 L452.8,294.0 L453.5,293.7 L454.1,293.4 L454.8,293.1 L455.5,292.8 L455.0,291.4 L455.9,291.3 L456.4,290.8 L456.7,291.5 L456.8,292.3 L457.4,293.0 L456.9,294.0 L457.9,294.5 L457.9,295.3 L458.2,296.0 L458.5,296.7 L458.4,297.4 L458.3,298.2 L459.0,298.8 L459.0,299.5 L458.8,300.3 L459.0,301.0 L459.2,301.7 L459.9,301.6 L460.0,300.6 L461.0,301.0 L461.5,300.5 L461.8,299.8 L462.4,300.3 L463.1,299.1 L463.7,299.8 L464.3,299.5 L464.7,298.6 L465.6,299.2 L465.7,300.1 L466.1,300.8 L466.6,301.4 L467.5,301.7 L468.2,302.2 L468.2,303.1 L468.3,303.9 L468.6,304.6 L469.3,305.2 L468.9,306.2 L469.6,306.7 L469.7,307.5 L469.8,306.7 L469.6,305.9 L469.9,305.1 L469.7,304.3 L469.7,303.5 L470.0,302.7 L469.9,301.9 L470.2,301.2 L470.0,300.3 L470.1,299.6 L470.0,298.8 L470.1,298.0 L470.3,297.2 L470.4,296.4 L470.4,295.6 L470.6,294.8 L470.5,294.0 L470.3,293.2 L470.7,292.5 L470.3,291.7 L470.8,291.0 L470.6,290.2 L470.5,289.5 L470.6,288.7 L470.8,288.0 L470.9,287.2 L470.6,286.5 L470.4,285.7 L470.5,285.0 L470.8,284.2 L470.8,283.5 L470.8,282.7 L470.5,282.0 L470.7,281.2 L470.8,280.4 L470.5,279.7 L470.6,278.9 L470.8,278.1 L471.2,277.4 L471.1,276.6 L471.2,275.9 L470.9,275.1 L471.1,274.3 L471.0,273.5 L471.1,272.8 L471.1,272.0 L471.6,271.3 L471.4,270.5 L471.3,269.7 L471.5,268.9 L471.6,268.1 L471.7,267.3 L471.8,266.5 L471.6,265.7 L471.6,264.9 L471.8,264.1 L471.6,263.3 L471.6,262.5 L471.8,261.8 L471.6,261.0 L471.7,260.2 L471.8,259.4 L471.8,258.6 L471.8,257.8 L471.8,257.0 L471.9,256.2 L471.7,255.4 L472.2,254.6 L472.0,253.8 L471.9,252.9 L472.7,252.5 L473.0,251.9 L473.2,251.2 L473.4,250.5 L474.0,250.0 L473.9,249.2 L474.1,248.5 L474.2,247.7 L474.4,247.0 L474.4,246.2 L474.7,245.5 L474.7,244.7 L474.5,244.0 L474.9,243.2 L475.2,242.5 L474.8,241.7 L475.2,241.0 L475.8,240.8 L476.3,240.3 L476.1,241.1 L476.4,241.9 L476.3,242.6 L476.4,243.4 L476.5,244.2 L476.3,245.0 L476.4,245.8 L476.5,246.5 L476.4,247.3 L476.4,248.1 L476.3,248.9 L476.7,249.6 L476.7,250.4 L476.5,251.2 L477.0,251.7 L477.3,252.4 L477.0,253.3 L477.7,253.7 L477.5,254.6 L478.2,255.0 L478.4,255.7 L478.9,256.2 L478.9,257.1 L479.8,257.4 L479.2,258.5 L479.7,259.1 L480.5,259.4 L480.9,260.1 L481.0,260.8 L481.3,261.7 L482.0,262.0 L482.9,262.1 L483.7,261.9 L483.8,260.6 L484.8,260.8 L484.9,261.6 L485.9,261.9 L485.7,262.8 L486.1,263.4 L486.0,264.3 L486.8,264.7 L486.9,265.5 L487.8,266.0 L487.1,267.1 L487.6,267.8 L488.0,268.5 L488.3,269.2 L488.8,269.9 L488.3,270.8 L488.6,271.6 L488.5,272.4 L488.4,273.2 L488.5,274.0 L489.3,274.7 L488.8,275.5 L489.2,276.3 L489.2,277.1 L489.2,277.9 L489.9,278.3 L490.1,279.0 L490.4,279.7 L491.0,280.2 L490.9,281.0 L491.3,281.7 L491.1,282.5 L491.9,283.0 L492.1,283.7 L491.6,284.6 L492.0,285.3 L492.3,286.0 L492.9,286.6 L492.8,287.4 L493.6,287.6 L493.9,288.3 L493.6,289.4 L494.5,289.6 L494.5,290.4 L495.4,290.6 L496.2,290.9 L496.4,291.6 L496.7,292.3 L496.9,293.1 L498.1,293.0 L497.7,294.2 L498.6,294.4 L498.9,295.1 L499.6,295.7 L499.5,296.6 L499.8,297.3 L499.8,298.2 L499.8,299.0 L500.5,299.6 L500.8,300.3 L500.9,301.1 L501.4,301.7 L501.3,302.6 L502.2,303.1 L501.9,304.1 L502.4,304.7 L503.2,304.9 L503.2,305.8 L504.0,306.0 L504.3,306.7 L504.9,307.1 L505.0,307.9 L505.6,307.4 L506.3,307.7 L506.9,307.3 L507.6,306.9 L508.1,306.3 L508.8,306.0 L509.1,306.7 L509.2,307.5 L510.1,307.8 L510.2,308.6 L510.7,309.2 L510.5,310.1 L511.4,310.5 L511.7,309.8 L512.6,309.7 L512.7,308.7 L513.2,308.2 L514.0,307.9 L514.0,308.7 L514.5,309.4 L515.1,310.0 L515.5,310.7 L515.0,311.7 L515.7,312.2 L515.9,313.0 L516.1,313.8 L516.8,314.3 L517.1,315.0 L517.6,315.6 L517.6,316.6 L518.5,316.9 L518.4,317.8 L519.3,318.2 L519.6,318.8 L520.2,319.3 L520.0,320.3 L521.1,320.5 L521.0,321.4 L521.3,320.7 L522.3,320.7 L521.9,319.4 L522.9,319.4 L523.2,318.7 L523.2,317.9 L523.3,317.2 L523.2,316.4 L523.2,315.7 L523.9,315.0 L523.9,314.2 L524.0,313.5 L523.6,312.7 L524.2,312.0 L523.9,311.2 L524.2,310.5 L524.1,309.7 L524.7,309.1 L525.0,308.4 L524.7,307.5 L525.6,307.0 L525.6,306.3 L526.1,305.6 L526.4,304.9 L526.2,304.1 L526.7,303.5 L526.6,302.8 L527.5,302.4 L527.5,301.6 L527.3,300.8 L528.2,300.4 L528.1,299.6 L528.1,300.4 L528.7,300.9 L528.9,301.6 L529.3,302.3 L529.0,303.1 L529.5,303.7 L529.6,304.4 L529.8,305.1 L530.1,305.8 L530.0,306.6 L530.4,307.2 L531.1,307.7 L531.5,308.4 L532.0,309.0 L532.2,309.9 L532.6,310.5 L533.2,310.0 L532.8,309.1 L533.8,308.7 L534.0,308.1 L534.1,307.3 L534.3,306.7 L534.5,306.0 L534.9,305.3 L534.9,304.6 L535.2,303.9 L535.6,303.3 L535.7,302.5 L535.4,301.7 L535.4,300.9 L536.4,300.4 L536.1,299.6 L536.4,298.9 L536.9,299.6 L537.8,298.9 L538.3,299.6 L538.5,298.9 L538.7,298.3 L539.3,297.8 L539.7,297.2 L539.5,296.4 L539.8,295.8 L540.0,295.1 L540.4,295.8 L540.7,296.4 L540.3,297.4 L541.4,297.8 L540.8,298.8 L541.3,299.4 L542.1,299.9 L541.6,300.9 L542.2,301.5 L542.0,300.7 L542.6,300.0 L542.4,299.2 L543.3,298.5 L542.8,297.7 L543.5,297.0 L542.9,296.1 L543.6,295.4 L543.3,294.6 L543.8,293.9 L543.6,293.0 L544.4,292.5 L545.1,291.9 L545.0,291.0 L545.5,290.4 L545.4,289.5 L545.3,290.3 L545.8,290.9 L546.3,291.5 L546.1,292.4 L546.6,293.0 L546.5,293.8 L546.9,294.4 L546.9,295.2 L547.1,295.9 L547.5,296.6 L547.3,297.4 L547.7,298.1 L547.8,298.8 L548.3,299.5 L548.1,300.3 L548.3,301.0 L549.0,300.6 L550.0,300.8 L550.3,299.7 L550.9,299.8 L551.6,299.0 L552.2,299.7 L552.7,300.3 L552.9,300.9 L552.8,301.7 L552.8,302.5 L553.1,303.1 L553.4,303.7 L554.1,304.2 L553.9,305.0 L554.3,305.6 L554.5,306.3 L555.7,306.6 L555.5,307.4 L555.6,308.1 L556.0,308.7 L556.0,309.5 L556.2,310.2 L556.3,311.0 L556.2,311.8 L556.7,312.5 L556.7,311.5 L557.7,311.3 L558.6,311.0 L558.6,310.0 L558.3,309.2 L558.5,308.4 L559.2,307.8 L559.4,307.0 L558.8,306.1 L558.9,305.4 L559.7,304.7 L559.7,303.9 L559.7,303.1 L559.8,302.4 L559.9,301.6 L560.4,300.9 L560.6,300.2 L560.1,299.3 L560.4,298.6 L561.3,298.0 L561.7,297.4 L561.5,296.5 L562.2,296.0 L562.1,295.2 L562.3,294.5 L562.8,293.9 L563.2,294.5 L563.8,295.0 L563.3,296.0 L564.1,296.4 L564.0,297.2 L564.4,297.8 L564.8,298.5 L565.5,299.0 L565.6,299.9 L566.3,300.3 L566.7,301.0 L567.1,301.7 L566.7,302.5 L567.6,303.1 L567.8,303.8 L567.9,304.6 L567.8,305.3 L567.8,306.1 L568.2,306.8 L568.6,307.5 L568.9,308.1 L568.8,309.0 L569.4,309.6 L569.4,310.4 L569.9,311.0 L569.5,311.9 L570.1,312.5 L570.6,313.1 L570.8,313.8 L570.9,314.6 L571.1,315.3 L570.9,316.1 L571.2,316.8 L571.3,317.6 L571.8,318.2 L572.0,318.9 L572.9,319.0 L572.7,320.2 L573.8,320.1 L574.0,320.9 L574.0,320.1 L574.4,319.4 L575.2,318.9 L574.8,318.0 L575.1,317.2 L575.8,316.7 L576.1,316.0 L575.9,315.1 L576.4,314.5 L576.8,313.8 L577.8,313.8 L578.7,314.2 L579.4,314.0 L580.0,313.1 L580.8,313.2 L580.8,313.9 L581.4,314.4 L581.8,315.0 L581.7,315.8 L581.8,316.5 L582.3,317.0 L582.7,316.4 L583.6,316.0 L583.2,314.7 L584.2,314.5 L584.6,315.0 L585.1,315.4 L585.9,315.6 L585.4,316.9 L586.2,317.0 L587.2,317.0 L587.7,317.5 L588.1,318.3 L588.9,317.9 L589.5,317.4 L589.4,316.4 L590.2,316.0 L589.9,315.0 L590.8,314.7 L590.3,313.7 L591.0,313.2 L591.0,313.9 L591.0,314.6 L591.8,315.0 L592.1,315.7 L591.9,316.4 L591.9,317.2 L591.9,318.0 L592.1,318.8 L592.1,319.6 L592.7,320.3 L592.9,321.0 L593.2,321.8 L593.2,322.6 L593.2,323.4 L593.7,322.8 L593.2,321.9 L593.4,321.2 L593.7,320.5 L593.6,319.7 L594.0,319.1 L594.1,318.3 L594.5,317.7 L594.6,316.8 L595.5,316.7 L596.0,316.2 L596.4,315.7 L597.1,315.4 L597.9,315.3 L598.4,314.6 L599.0,314.2" fill="none" stroke="#0b4f87" stroke-width="2.1" stroke-linejoin="round" stroke-linecap="round"/>
<line x1="81.4" y1="270.05" x2="599.7" y2="270.05" stroke="#7b9950" stroke-width="1.5"/>
<line x1="81.4" y1="230.4" x2="599.7" y2="230.4" stroke="#66164a" stroke-width="1.7" stroke-dasharray="7.6 5.616" stroke-dashoffset="4.23"/>
<line x1="81.4" y1="309.8" x2="599.7" y2="309.8" stroke="#66164a" stroke-width="1.7" stroke-dasharray="7.6 5.616" stroke-dashoffset="4.23"/>
</svg>

<div class="abs foot" style="top:412.6px">As of 30 June 2025</div>
<div class="abs foot" style="top:421.7px"><span style="color:#444">SOURCES:</span> Bloomberg</div>
<div class="abs foot" style="top:430.9px">Refer to Appendix for additional outlook and risk information</div>
</body>
</html>
